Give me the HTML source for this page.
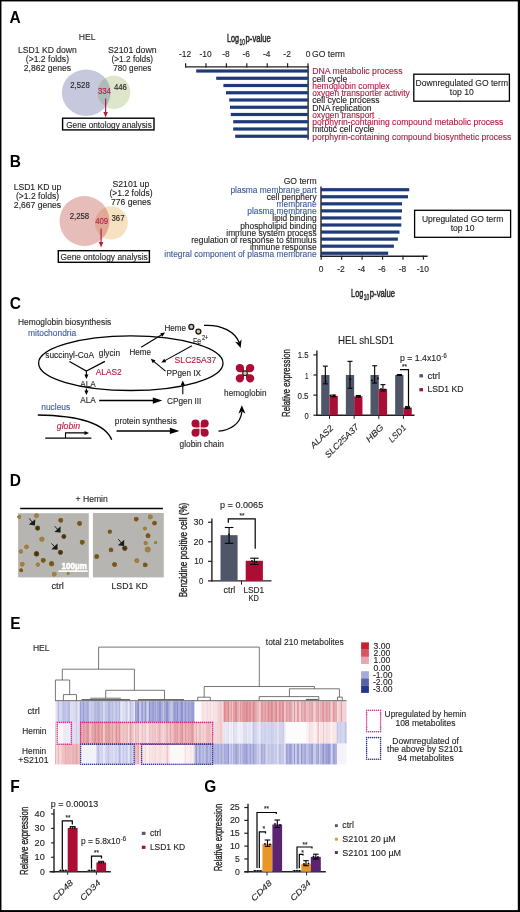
<!DOCTYPE html>
<html><head><meta charset="utf-8"><title>Figure</title>
<style>
html,body{margin:0;padding:0;background:#fff;overflow:hidden;}
svg{display:block;filter:blur(0.3px);}
text{font-family:"Liberation Sans",sans-serif;stroke:#231f20;stroke-width:0.12px;}
</style></head>
<body>
<svg width="520" height="912" viewBox="0 0 520 912" fill="#231f20">
<rect x="0" y="0" width="520" height="912" fill="#000" />
<rect x="1.45" y="1.45" width="516.35" height="908.65" fill="#fff" />
<text x="9.6" y="22.9" font-size="16.6" font-weight="bold" fill="#000" style="stroke:none" textLength="11.2" lengthAdjust="spacingAndGlyphs">A</text>
<text x="9.8" y="167" font-size="16.6" font-weight="bold" fill="#000" style="stroke:none" textLength="11.2" lengthAdjust="spacingAndGlyphs">B</text>
<text x="9.8" y="308.9" font-size="16.6" font-weight="bold" fill="#000" style="stroke:none" textLength="11.2" lengthAdjust="spacingAndGlyphs">C</text>
<text x="9.7" y="486" font-size="16.6" font-weight="bold" fill="#000" style="stroke:none" textLength="11.2" lengthAdjust="spacingAndGlyphs">D</text>
<text x="10.2" y="629.4" font-size="16.6" font-weight="bold" fill="#000" style="stroke:none" textLength="10.3" lengthAdjust="spacingAndGlyphs">E</text>
<text x="10.2" y="791.5" font-size="16.6" font-weight="bold" fill="#000" style="stroke:none" textLength="9.5" lengthAdjust="spacingAndGlyphs">F</text>
<text x="204.2" y="792" font-size="16.6" font-weight="bold" fill="#000" style="stroke:none" textLength="12.05" lengthAdjust="spacingAndGlyphs">G</text>
<text transform="translate(78.8,40.0) scale(1,1.08)" font-size="8.6" textLength="16.8" lengthAdjust="spacingAndGlyphs">HEL</text>
<text transform="translate(47.4,53.1) scale(1,1.08)" font-size="8.6" text-anchor="middle">LSD1 KD down</text>
<text transform="translate(47.4,62.1) scale(1,1.08)" font-size="8.6" text-anchor="middle">(&gt;1.2 folds)</text>
<text transform="translate(47.4,70.8) scale(1,1.08)" font-size="8.6" text-anchor="middle">2,862 genes</text>
<text transform="translate(132.3,52.8) scale(1,1.08)" font-size="8.6" text-anchor="middle" textLength="48.6" lengthAdjust="spacingAndGlyphs">S2101 down</text>
<text transform="translate(132.3,61.6) scale(1,1.08)" font-size="8.6" text-anchor="middle" textLength="41.6" lengthAdjust="spacingAndGlyphs">(&gt;1.2 folds)</text>
<text transform="translate(132.3,70.8) scale(1,1.08)" font-size="8.6" text-anchor="middle" textLength="38.2" lengthAdjust="spacingAndGlyphs">780 genes</text>
<ellipse cx="86.2" cy="92.7" rx="24.4" ry="23.2" fill="#c6c9de"/>
<circle cx="113.8" cy="92.3" r="16.6" fill="#dde6cb"/>
<clipPath id="cA"><ellipse cx="86.2" cy="92.7" rx="24.4" ry="23.2"/></clipPath>
<circle cx="113.8" cy="92.3" r="16.6" fill="#aebbbd" clip-path="url(#cA)"/>
<text transform="translate(80,87.9) scale(1,1.08)" font-size="7.8" text-anchor="middle">2,528</text>
<text transform="translate(104.4,93.9) scale(1,1.08)" font-size="7.8" text-anchor="middle" fill="#b01f45" style="stroke:#b01f45">334</text>
<text transform="translate(120.4,90.0) scale(1,1.08)" font-size="7.8" text-anchor="middle">446</text>
<line x1="105.6" y1="98.5" x2="105.6" y2="113" stroke="#b01f45" stroke-width="1.2" />
<path d="M103.3,112 L105.6,117.5 L107.9,112 Z" fill="#b01f45"/>
<rect x="62.6" y="118.2" width="91.4" height="11.7" fill="#fff" stroke="#000" stroke-width="1.4"/>
<text transform="translate(109.0,127.7) scale(1,1.08)" font-size="8.6" text-anchor="middle" textLength="85.6" lengthAdjust="spacingAndGlyphs">Gene ontology analysis</text>
<text transform="translate(226.9,42.3) scale(1,1.08)" font-size="10.6" textLength="12.1" lengthAdjust="spacingAndGlyphs" style="stroke-width:0.45px">Log</text>
<text transform="translate(239.6,45.0) scale(1,1.08)" font-size="7.6" textLength="5.4" lengthAdjust="spacingAndGlyphs" style="stroke-width:0.35px">10</text>
<text transform="translate(245.6,42.3) scale(1,1.08)" font-size="10.6" textLength="25.2" lengthAdjust="spacingAndGlyphs" style="stroke-width:0.45px">p-value</text>
<line x1="185.6" y1="63.3" x2="185.6" y2="67.4" stroke="#231f20" stroke-width="1.2" />
<text transform="translate(185.1,57.2) scale(1,1.08)" font-size="8.4" text-anchor="middle">-12</text>
<line x1="206.0" y1="63.3" x2="206.0" y2="67.4" stroke="#231f20" stroke-width="1.2" />
<text transform="translate(205.5,57.2) scale(1,1.08)" font-size="8.4" text-anchor="middle">-10</text>
<line x1="226.39999999999998" y1="63.3" x2="226.39999999999998" y2="67.4" stroke="#231f20" stroke-width="1.2" />
<text transform="translate(225.89999999999998,57.2) scale(1,1.08)" font-size="8.4" text-anchor="middle">-8</text>
<line x1="246.79999999999998" y1="63.3" x2="246.79999999999998" y2="67.4" stroke="#231f20" stroke-width="1.2" />
<text transform="translate(246.29999999999998,57.2) scale(1,1.08)" font-size="8.4" text-anchor="middle">-6</text>
<line x1="267.2" y1="63.3" x2="267.2" y2="67.4" stroke="#231f20" stroke-width="1.2" />
<text transform="translate(266.7,57.2) scale(1,1.08)" font-size="8.4" text-anchor="middle">-4</text>
<line x1="287.6" y1="63.3" x2="287.6" y2="67.4" stroke="#231f20" stroke-width="1.2" />
<text transform="translate(287.1,57.2) scale(1,1.08)" font-size="8.4" text-anchor="middle">-2</text>
<line x1="308.0" y1="63.3" x2="308.0" y2="67.4" stroke="#231f20" stroke-width="1.2" />
<text transform="translate(305.7,57.2) scale(1,1.08)" font-size="8.4">0</text>
<line x1="185.1" y1="66.9" x2="308.6" y2="66.9" stroke="#231f20" stroke-width="1.3" />
<line x1="308.1" y1="66.4" x2="308.1" y2="139.8" stroke="#231f20" stroke-width="1.4" />
<text transform="translate(312,57.0) scale(1,1.08)" font-size="8.6">GO term</text>
<rect x="196.2" y="69.4" width="111.69999999999999" height="3.2" fill="#1f3a78" />
<rect x="216.2" y="76.65" width="91.69999999999999" height="3.2" fill="#1f3a78" />
<rect x="223.4" y="83.9" width="84.49999999999997" height="3.2" fill="#1f3a78" />
<rect x="226" y="91.15" width="81.89999999999998" height="3.2" fill="#1f3a78" />
<rect x="229.2" y="98.4" width="78.69999999999999" height="3.2" fill="#1f3a78" />
<rect x="230" y="105.65" width="77.89999999999998" height="3.2" fill="#1f3a78" />
<rect x="230.8" y="112.9" width="77.09999999999997" height="3.2" fill="#1f3a78" />
<rect x="233.2" y="120.15" width="74.69999999999999" height="3.2" fill="#1f3a78" />
<rect x="233.2" y="127.4" width="74.69999999999999" height="3.2" fill="#1f3a78" />
<rect x="235.2" y="134.65" width="72.69999999999999" height="3.2" fill="#1f3a78" />
<text transform="translate(312.2,74.3) scale(1,1.08)" font-size="8.6" fill="#b01f45" style="stroke:#b01f45" textLength="90.3" lengthAdjust="spacingAndGlyphs">DNA metabolic process</text>
<text transform="translate(312.2,81.55) scale(1,1.08)" font-size="8.6" textLength="35.1" lengthAdjust="spacingAndGlyphs">cell cycle</text>
<text transform="translate(312.2,88.8) scale(1,1.08)" font-size="8.6" fill="#b01f45" style="stroke:#b01f45" textLength="77.6" lengthAdjust="spacingAndGlyphs">hemoglobin complex</text>
<text transform="translate(312.2,96.05) scale(1,1.08)" font-size="8.6" fill="#b01f45" style="stroke:#b01f45" textLength="97.5" lengthAdjust="spacingAndGlyphs">oxygen transporter activity</text>
<text transform="translate(312.2,103.3) scale(1,1.08)" font-size="8.6" textLength="67.4" lengthAdjust="spacingAndGlyphs">cell cycle process</text>
<text transform="translate(312.2,110.55) scale(1,1.08)" font-size="8.6" textLength="59.4" lengthAdjust="spacingAndGlyphs">DNA replication</text>
<text transform="translate(312.2,117.8) scale(1,1.08)" font-size="8.6" fill="#b01f45" style="stroke:#b01f45" textLength="62.2" lengthAdjust="spacingAndGlyphs">oxygen transport</text>
<text transform="translate(312.2,125.05) scale(1,1.08)" font-size="8.6" fill="#b01f45" style="stroke:#b01f45" textLength="191.2" lengthAdjust="spacingAndGlyphs">porphyrin-containing compound metabolic process</text>
<text transform="translate(312.2,132.3) scale(1,1.08)" font-size="8.6" textLength="62.2" lengthAdjust="spacingAndGlyphs">mitotic cell cycle</text>
<text transform="translate(312.2,139.55) scale(1,1.08)" font-size="8.6" fill="#b01f45" style="stroke:#b01f45" textLength="199.2" lengthAdjust="spacingAndGlyphs">porphyrin-containing compound biosynthetic process</text>
<rect x="413.8" y="74.2" width="95.6" height="27" fill="#fff" stroke="#000" stroke-width="1.3"/>
<text transform="translate(461.8,85.8) scale(1,1.08)" font-size="8.6" text-anchor="middle" textLength="92.4" lengthAdjust="spacingAndGlyphs">Downregulated GO term</text>
<text transform="translate(461.8,94.6) scale(1,1.08)" font-size="8.6" text-anchor="middle">top 10</text>
<text transform="translate(37.5,190.4) scale(1,1.08)" font-size="8.6" text-anchor="middle">LSD1 KD up</text>
<text transform="translate(37.5,199.2) scale(1,1.08)" font-size="8.6" text-anchor="middle">(&gt;1.2 folds)</text>
<text transform="translate(37.5,207.9) scale(1,1.08)" font-size="8.6" text-anchor="middle">2,667 genes</text>
<text transform="translate(131,187.4) scale(1,1.08)" font-size="8.6" text-anchor="middle">S2101 up</text>
<text transform="translate(131,196.4) scale(1,1.08)" font-size="8.6" text-anchor="middle">(&gt;1.2 folds)</text>
<text transform="translate(131,205.0) scale(1,1.08)" font-size="8.6" text-anchor="middle">776 genes</text>
<circle cx="84.5" cy="221" r="25" fill="#e6bdb9"/>
<circle cx="111.2" cy="222.9" r="16.6" fill="#f6e1c1"/>
<clipPath id="cB"><circle cx="84.5" cy="221" r="25"/></clipPath>
<circle cx="111.2" cy="222.9" r="16.6" fill="#e0a897" clip-path="url(#cB)"/>
<text transform="translate(79.4,219.4) scale(1,1.08)" font-size="7.8" text-anchor="middle">2,258</text>
<text transform="translate(101.7,224.2) scale(1,1.08)" font-size="7.8" text-anchor="middle" fill="#b01f45" style="stroke:#b01f45">409</text>
<text transform="translate(118,220.8) scale(1,1.08)" font-size="7.8" text-anchor="middle">367</text>
<line x1="101.1" y1="228.5" x2="101.1" y2="243" stroke="#b01f45" stroke-width="1.2" />
<path d="M98.8,242 L101.1,247.6 L103.4,242 Z" fill="#b01f45"/>
<rect x="58.3" y="250.7" width="91.1" height="11.6" fill="#fff" stroke="#000" stroke-width="1.4"/>
<text transform="translate(104.1,260.1) scale(1,1.08)" font-size="8.6" text-anchor="middle" textLength="87.2" lengthAdjust="spacingAndGlyphs">Gene ontology analysis</text>
<text transform="translate(316.6,183.8) scale(1,1.08)" font-size="8.6" text-anchor="end">GO term</text>
<rect x="321.2" y="188.1" width="88.0" height="3.2" fill="#1f3a78" />
<text transform="translate(316.6,193.2) scale(1,1.08)" font-size="8.38" text-anchor="end" fill="#3e5c98" style="stroke:#3e5c98">plasma membrane part</text>
<rect x="321.2" y="195.16" width="86.80000000000001" height="3.2" fill="#1f3a78" />
<text transform="translate(316.6,200.26) scale(1,1.08)" font-size="8.38" text-anchor="end">cell periphery</text>
<rect x="321.2" y="202.22" width="80.80000000000001" height="3.2" fill="#1f3a78" />
<text transform="translate(316.6,207.32) scale(1,1.08)" font-size="8.38" text-anchor="end" fill="#3e5c98" style="stroke:#3e5c98">membrane</text>
<rect x="321.2" y="209.28" width="80.80000000000001" height="3.2" fill="#1f3a78" />
<text transform="translate(316.6,214.38) scale(1,1.08)" font-size="8.38" text-anchor="end" fill="#3e5c98" style="stroke:#3e5c98">plasma membrane</text>
<rect x="321.2" y="216.34" width="80.10000000000002" height="3.2" fill="#1f3a78" />
<text transform="translate(316.6,221.44) scale(1,1.08)" font-size="8.38" text-anchor="end">lipid binding</text>
<rect x="321.2" y="223.4" width="80.10000000000002" height="3.2" fill="#1f3a78" />
<text transform="translate(316.6,228.5) scale(1,1.08)" font-size="8.38" text-anchor="end">phospholipid binding</text>
<rect x="321.2" y="230.46" width="78.30000000000001" height="3.2" fill="#1f3a78" />
<text transform="translate(316.6,235.56) scale(1,1.08)" font-size="8.38" text-anchor="end">immune system process</text>
<rect x="321.2" y="237.51999999999998" width="76.69999999999999" height="3.2" fill="#1f3a78" />
<text transform="translate(316.6,242.62) scale(1,1.08)" font-size="8.38" text-anchor="end">regulation of response to stimulus</text>
<rect x="321.2" y="244.57999999999998" width="72.69999999999999" height="3.2" fill="#1f3a78" />
<text transform="translate(316.6,249.68) scale(1,1.08)" font-size="8.38" text-anchor="end">immune response</text>
<rect x="321.2" y="251.64" width="67.0" height="3.2" fill="#1f3a78" />
<text transform="translate(316.6,256.74) scale(1,1.08)" font-size="8.38" text-anchor="end" fill="#3e5c98" style="stroke:#3e5c98">integral component of plasma membrane</text>
<line x1="321.0" y1="186.5" x2="321.0" y2="256.9" stroke="#231f20" stroke-width="1.4" />
<line x1="320.3" y1="256.3" x2="427.6" y2="256.3" stroke="#231f20" stroke-width="1.35" />
<line x1="321.2" y1="255.7" x2="321.2" y2="259.7" stroke="#231f20" stroke-width="1.2" />
<text transform="translate(321.2,272.4) scale(1,1.08)" font-size="8.4" text-anchor="middle">0</text>
<line x1="341.65" y1="255.7" x2="341.65" y2="259.7" stroke="#231f20" stroke-width="1.2" />
<text transform="translate(341.04999999999995,272.4) scale(1,1.08)" font-size="8.4" text-anchor="middle">-2</text>
<line x1="362.09999999999997" y1="255.7" x2="362.09999999999997" y2="259.7" stroke="#231f20" stroke-width="1.2" />
<text transform="translate(361.49999999999994,272.4) scale(1,1.08)" font-size="8.4" text-anchor="middle">-4</text>
<line x1="382.54999999999995" y1="255.7" x2="382.54999999999995" y2="259.7" stroke="#231f20" stroke-width="1.2" />
<text transform="translate(381.94999999999993,272.4) scale(1,1.08)" font-size="8.4" text-anchor="middle">-6</text>
<line x1="403.0" y1="255.7" x2="403.0" y2="259.7" stroke="#231f20" stroke-width="1.2" />
<text transform="translate(402.4,272.4) scale(1,1.08)" font-size="8.4" text-anchor="middle">-8</text>
<line x1="423.45" y1="255.7" x2="423.45" y2="259.7" stroke="#231f20" stroke-width="1.2" />
<text transform="translate(422.84999999999997,272.4) scale(1,1.08)" font-size="8.4" text-anchor="middle">-10</text>
<text transform="translate(351.1,296.9) scale(1,1.08)" font-size="10.6" textLength="12.1" lengthAdjust="spacingAndGlyphs" style="stroke-width:0.45px">Log</text>
<text transform="translate(363.8,299.6) scale(1,1.08)" font-size="7.6" textLength="5.4" lengthAdjust="spacingAndGlyphs" style="stroke-width:0.35px">10</text>
<text transform="translate(369.8,296.9) scale(1,1.08)" font-size="10.6" textLength="25.2" lengthAdjust="spacingAndGlyphs" style="stroke-width:0.45px">p-value</text>
<rect x="414.6" y="210.3" width="96" height="27" fill="#fff" stroke="#000" stroke-width="1.3"/>
<text transform="translate(462.6,221.9) scale(1,1.08)" font-size="8.6" text-anchor="middle" textLength="81.3" lengthAdjust="spacingAndGlyphs">Upregulated GO term</text>
<text transform="translate(462.6,231.2) scale(1,1.08)" font-size="8.6" text-anchor="middle">top 10</text>
<text transform="translate(18,324.7) scale(1,1.08)" font-size="8.6" textLength="93.2" lengthAdjust="spacingAndGlyphs">Hemoglobin biosynthesis</text>
<text transform="translate(28,335.9) scale(1,1.08)" font-size="8.6" fill="#3e5c98" style="stroke:#3e5c98" textLength="48.2" lengthAdjust="spacingAndGlyphs">mitochondria</text>
<ellipse cx="130.8" cy="363.2" rx="92.2" ry="27.3" fill="none" stroke="#000" stroke-width="1.3"/>
<text transform="translate(45.2,357.9) scale(1,1.08)" font-size="8.6" textLength="48.8" lengthAdjust="spacingAndGlyphs">succinyl-CoA</text>
<text transform="translate(98.8,356.1) scale(1,1.08)" font-size="8.6" textLength="21.2" lengthAdjust="spacingAndGlyphs">glycin</text>
<polyline points="69.4,361.4 86.4,371 104.9,361.4" fill="none" stroke="#000" stroke-width="1.2"/>
<line x1="86.4" y1="371" x2="86.4" y2="375.3" stroke="#000" stroke-width="1.1" />
<path d="M86.40,378.90 L84.40,374.40 L88.40,374.40 Z" fill="#000"/>
<text transform="translate(95.7,374.8) scale(1,1.08)" font-size="8.6" fill="#b01f45" style="stroke:#b01f45" textLength="26" lengthAdjust="spacingAndGlyphs">ALAS2</text>
<text transform="translate(80.2,387.0) scale(1,1.08)" font-size="8.6" textLength="15.5" lengthAdjust="spacingAndGlyphs">ALA</text>
<line x1="86.4" y1="388.4" x2="86.4" y2="391.4" stroke="#000" stroke-width="1.1" />
<path d="M86.40,395.00 L84.40,390.50 L88.40,390.50 Z" fill="#000"/>
<text transform="translate(80.2,402.5) scale(1,1.08)" font-size="8.6" textLength="15.5" lengthAdjust="spacingAndGlyphs">ALA</text>
<line x1="99.2" y1="400.6" x2="154.7" y2="400.6" stroke="#000" stroke-width="1.5" />
<path d="M162.30,400.60 L152.80,403.70 L152.80,397.50 Z" fill="#000"/>
<text transform="translate(167,404.3) scale(1,1.08)" font-size="8.6" textLength="34.4" lengthAdjust="spacingAndGlyphs">CPgen III</text>
<line x1="182.8" y1="394.3" x2="182.8" y2="384.0" stroke="#000" stroke-width="1.1" />
<path d="M182.80,380.40 L184.80,384.90 L180.80,384.90 Z" fill="#000"/>
<text transform="translate(166.5,375.7) scale(1,1.08)" font-size="8.6" textLength="34.5" lengthAdjust="spacingAndGlyphs">PPgen IX</text>
<line x1="165.5" y1="371.1" x2="153.47" y2="361.1" stroke="#000" stroke-width="1.1" />
<path d="M150.70,358.80 L155.44,360.14 L152.88,363.21 Z" fill="#000"/>
<text transform="translate(174.6,363.0) scale(1,1.08)" font-size="8.6" fill="#b01f45" style="stroke:#b01f45" textLength="41.7" lengthAdjust="spacingAndGlyphs">SLC25A37</text>
<text transform="translate(129.5,355.2) scale(1,1.08)" font-size="8.6" textLength="21.6" lengthAdjust="spacingAndGlyphs">Heme</text>
<line x1="191.9" y1="345.7" x2="164.45" y2="360.86" stroke="#000" stroke-width="1.1" />
<path d="M161.30,362.60 L164.27,358.67 L166.21,362.18 Z" fill="#000"/>
<line x1="141.2" y1="347.2" x2="162.03" y2="334.48" stroke="#000" stroke-width="1.1" />
<path d="M165.10,332.60 L162.30,336.65 L160.22,333.24 Z" fill="#000"/>
<text transform="translate(164.4,331.3) scale(1,1.08)" font-size="8.6" textLength="21.6" lengthAdjust="spacingAndGlyphs">Heme</text>
<circle cx="191.3" cy="326.9" r="2.45" fill="#d9c6a0" stroke="#1a1a18" stroke-width="1.35"/>
<circle cx="198.4" cy="331.5" r="2.45" fill="#d9c6a0" stroke="#1a1a18" stroke-width="1.35"/>
<text transform="translate(192.9,343.5) scale(1,1.08)" font-size="9" textLength="8.2" lengthAdjust="spacingAndGlyphs">Fe</text>
<text transform="translate(202.0,339.8) scale(1,1.08)" font-size="6.2" textLength="6.4" lengthAdjust="spacingAndGlyphs">2+</text>
<path d="M204,325.4 C222,324.3 235,332 239.2,342.5" fill="none" stroke="#000" stroke-width="1.3"/>
<path d="M240.6,348 L235.2,341.8 L238.8,342.6 L241.6,339.4 Z" fill="#000"/>
<path d="M244.00,372.20 L239.85,372.20 A4.15,4.15 0 0 1 235.70,368.05 A4.15,4.15 0 0 1 239.85,363.90 A4.15,4.15 0 0 1 244.00,368.05 Z" fill="#ac0d35"/>
<path d="M244.00,374.20 L239.85,374.20 A4.15,4.15 0 0 0 235.70,378.35 A4.15,4.15 0 0 0 239.85,382.50 A4.15,4.15 0 0 0 244.00,378.35 Z" fill="#ac0d35"/>
<path d="M246.00,372.20 L250.15,372.20 A4.15,4.15 0 0 0 254.30,368.05 A4.15,4.15 0 0 0 250.15,363.90 A4.15,4.15 0 0 0 246.00,368.05 Z" fill="#ac0d35"/>
<path d="M246.00,374.20 L250.15,374.20 A4.15,4.15 0 0 1 254.30,378.35 A4.15,4.15 0 0 1 250.15,382.50 A4.15,4.15 0 0 1 246.00,378.35 Z" fill="#ac0d35"/>
<circle cx="245.0" cy="373.2" r="2.3" fill="#d8c9a3" stroke="#1c2a22" stroke-width="1.1"/>
<text transform="translate(224.1,395.9) scale(1,1.08)" font-size="8.6" textLength="42.4" lengthAdjust="spacingAndGlyphs">hemoglobin</text>
<text transform="translate(41.2,410.3) scale(1,1.08)" font-size="8.6" fill="#3e5c98" style="stroke:#3e5c98" textLength="29" lengthAdjust="spacingAndGlyphs">nucleus</text>
<path d="M37.8,415 C72,415.5 104,421 111.7,439.8" fill="none" stroke="#000" stroke-width="1.3"/>
<text transform="translate(56.8,429.0) scale(1,1.08)" font-size="8.6" fill="#b01f45" style="stroke:#b01f45" textLength="23.4" lengthAdjust="spacingAndGlyphs" font-style="italic">globin</text>
<line x1="45.2" y1="438.1" x2="91.4" y2="438.1" stroke="#000" stroke-width="1.2" />
<polyline points="65.5,438.1 65.5,432.9 85.5,432.9" fill="none" stroke="#000" stroke-width="1.1"/>
<path d="M89.00,432.90 L84.50,434.90 L84.50,430.90 Z" fill="#000"/>
<text transform="translate(114.8,424.0) scale(1,1.08)" font-size="8.6" textLength="62" lengthAdjust="spacingAndGlyphs">protein synthesis</text>
<line x1="116.5" y1="430.9" x2="171.8" y2="430.9" stroke="#000" stroke-width="1.5" />
<path d="M179.40,430.90 L169.90,434.00 L169.90,427.80 Z" fill="#000"/>
<path d="M199.50,427.60 L195.50,427.60 A4.0,4.0 0 0 1 191.50,423.60 A4.0,4.0 0 0 1 195.50,419.60 A4.0,4.0 0 0 1 199.50,423.60 Z" fill="#ac0d35"/>
<path d="M199.50,428.80 L195.50,428.80 A4.0,4.0 0 0 0 191.50,432.80 A4.0,4.0 0 0 0 195.50,436.80 A4.0,4.0 0 0 0 199.50,432.80 Z" fill="#ac0d35"/>
<path d="M200.70,427.60 L204.70,427.60 A4.0,4.0 0 0 0 208.70,423.60 A4.0,4.0 0 0 0 204.70,419.60 A4.0,4.0 0 0 0 200.70,423.60 Z" fill="#ac0d35"/>
<path d="M200.70,428.80 L204.70,428.80 A4.0,4.0 0 0 1 208.70,432.80 A4.0,4.0 0 0 1 204.70,436.80 A4.0,4.0 0 0 1 200.70,432.80 Z" fill="#ac0d35"/>
<text transform="translate(179.5,446.7) scale(1,1.08)" font-size="8.6" textLength="44.5" lengthAdjust="spacingAndGlyphs">globin chain</text>
<path d="M218.5,431.2 C230,430.5 240.5,424 241.8,412" fill="none" stroke="#000" stroke-width="1.3"/>
<path d="M241.8,405.2 L245.4,413.4 L241.9,411.6 L238.4,413.4 Z" fill="#000"/>
<text transform="translate(337.9,344.2) scale(1,1.08)" font-size="9.8" textLength="56.0" lengthAdjust="spacingAndGlyphs">HEL shLSD1</text>
<text transform="translate(290,416.9) rotate(-90)" font-size="10" textLength="67.7" lengthAdjust="spacingAndGlyphs" style="stroke-width:0.35px">Relative expression</text>
<line x1="316.9" y1="350.6" x2="316.9" y2="415.9" stroke="#231f20" stroke-width="1.4" />
<line x1="316.2" y1="415.3" x2="414.5" y2="415.3" stroke="#231f20" stroke-width="1.4" />
<line x1="313.4" y1="354.9" x2="316.9" y2="354.9" stroke="#231f20" stroke-width="1.2" />
<text transform="translate(308.6,358.4) scale(1,1.08)" font-size="8.4" text-anchor="end" textLength="10.8" lengthAdjust="spacingAndGlyphs">1.5</text>
<line x1="313.4" y1="375.0" x2="316.9" y2="375.0" stroke="#231f20" stroke-width="1.2" />
<text transform="translate(308.6,378.5) scale(1,1.08)" font-size="8.4" text-anchor="end" textLength="3.5" lengthAdjust="spacingAndGlyphs">1</text>
<line x1="313.4" y1="395.09999999999997" x2="316.9" y2="395.09999999999997" stroke="#231f20" stroke-width="1.2" />
<text transform="translate(308.6,398.6) scale(1,1.08)" font-size="8.4" text-anchor="end" textLength="11.2" lengthAdjust="spacingAndGlyphs">0.5</text>
<line x1="313.4" y1="415.2" x2="316.9" y2="415.2" stroke="#231f20" stroke-width="1.2" />
<text transform="translate(308.6,418.7) scale(1,1.08)" font-size="8.4" text-anchor="end" textLength="4.2" lengthAdjust="spacingAndGlyphs">0</text>
<rect x="321.2" y="375.0" width="8.3" height="40.2" fill="#4f5669" />
<rect x="329.5" y="395.904" width="8.3" height="19.296" fill="#ac0d35" />
<line x1="329.5" y1="415.2" x2="329.5" y2="418.9" stroke="#231f20" stroke-width="1" />
<line x1="325.35" y1="366.156" x2="325.35" y2="383.844" stroke="#000" stroke-width="1.1" />
<line x1="322.85" y1="366.156" x2="327.85" y2="366.156" stroke="#000" stroke-width="1.1" />
<line x1="322.85" y1="383.844" x2="327.85" y2="383.844" stroke="#000" stroke-width="1.1" />
<line x1="333.65" y1="395.09999999999997" x2="333.65" y2="396.70799999999997" stroke="#000" stroke-width="1.1" />
<line x1="331.15" y1="395.09999999999997" x2="336.15" y2="395.09999999999997" stroke="#000" stroke-width="1.1" />
<line x1="331.15" y1="396.70799999999997" x2="336.15" y2="396.70799999999997" stroke="#000" stroke-width="1.1" />
<rect x="345.84999999999997" y="375.0" width="8.3" height="40.2" fill="#4f5669" />
<rect x="354.15" y="396.306" width="8.3" height="18.894000000000002" fill="#ac0d35" />
<line x1="354.15" y1="415.2" x2="354.15" y2="418.9" stroke="#231f20" stroke-width="1" />
<line x1="350.0" y1="361.332" x2="350.0" y2="388.26599999999996" stroke="#000" stroke-width="1.1" />
<line x1="347.5" y1="361.332" x2="352.5" y2="361.332" stroke="#000" stroke-width="1.1" />
<line x1="347.5" y1="388.26599999999996" x2="352.5" y2="388.26599999999996" stroke="#000" stroke-width="1.1" />
<line x1="358.29999999999995" y1="395.502" x2="358.29999999999995" y2="397.11" stroke="#000" stroke-width="1.1" />
<line x1="355.79999999999995" y1="395.502" x2="360.79999999999995" y2="395.502" stroke="#000" stroke-width="1.1" />
<line x1="355.79999999999995" y1="397.11" x2="360.79999999999995" y2="397.11" stroke="#000" stroke-width="1.1" />
<rect x="370.5" y="375.0" width="8.3" height="40.2" fill="#4f5669" />
<rect x="378.8" y="389.07" width="8.3" height="26.130000000000003" fill="#ac0d35" />
<line x1="378.8" y1="415.2" x2="378.8" y2="418.9" stroke="#231f20" stroke-width="1" />
<line x1="374.65000000000003" y1="365.75399999999996" x2="374.65000000000003" y2="383.03999999999996" stroke="#000" stroke-width="1.1" />
<line x1="372.15000000000003" y1="365.75399999999996" x2="377.15000000000003" y2="365.75399999999996" stroke="#000" stroke-width="1.1" />
<line x1="372.15000000000003" y1="383.03999999999996" x2="377.15000000000003" y2="383.03999999999996" stroke="#000" stroke-width="1.1" />
<line x1="382.95" y1="384.64799999999997" x2="382.95" y2="391.08" stroke="#000" stroke-width="1.1" />
<line x1="380.45" y1="384.64799999999997" x2="385.45" y2="384.64799999999997" stroke="#000" stroke-width="1.1" />
<line x1="380.45" y1="391.08" x2="385.45" y2="391.08" stroke="#000" stroke-width="1.1" />
<rect x="395.15" y="375.0" width="8.3" height="40.2" fill="#4f5669" />
<rect x="403.45" y="407.562" width="8.3" height="7.638000000000001" fill="#ac0d35" />
<line x1="403.45" y1="415.2" x2="403.45" y2="418.9" stroke="#231f20" stroke-width="1" />
<line x1="399.3" y1="374.59799999999996" x2="399.3" y2="375.402" stroke="#000" stroke-width="1.1" />
<line x1="396.8" y1="374.59799999999996" x2="401.8" y2="374.59799999999996" stroke="#000" stroke-width="1.1" />
<line x1="396.8" y1="375.402" x2="401.8" y2="375.402" stroke="#000" stroke-width="1.1" />
<line x1="407.59999999999997" y1="406.758" x2="407.59999999999997" y2="408.366" stroke="#000" stroke-width="1.1" />
<line x1="405.09999999999997" y1="406.758" x2="410.09999999999997" y2="406.758" stroke="#000" stroke-width="1.1" />
<line x1="405.09999999999997" y1="408.366" x2="410.09999999999997" y2="408.366" stroke="#000" stroke-width="1.1" />
<circle cx="325.6" cy="381.5" r="0.9" fill="#000"/>
<circle cx="350.3" cy="379.2" r="0.9" fill="#000"/>
<circle cx="372" cy="380.5" r="0.9" fill="#000"/>
<circle cx="378" cy="378.5" r="0.9" fill="#000"/>
<circle cx="330.5" cy="395.5" r="0.9" fill="#000"/>
<circle cx="334" cy="395.5" r="0.9" fill="#000"/>
<circle cx="357" cy="396" r="0.9" fill="#000"/>
<circle cx="360" cy="396.5" r="0.9" fill="#000"/>
<circle cx="381" cy="389" r="0.9" fill="#000"/>
<circle cx="385" cy="389.5" r="0.9" fill="#000"/>
<circle cx="406" cy="407" r="0.9" fill="#000"/>
<circle cx="409" cy="407.5" r="0.9" fill="#000"/>
<circle cx="398" cy="375" r="0.9" fill="#000"/>
<circle cx="401" cy="375" r="0.9" fill="#000"/>
<polyline points="400,369.6 408.5,369.6 408.5,406.2" fill="none" stroke="#000" stroke-width="1.2"/>
<text transform="translate(404.6,368.9) scale(1,1.08)" font-size="7" text-anchor="middle" textLength="5" lengthAdjust="spacingAndGlyphs">**</text>
<text transform="translate(400,360.6) scale(1,1.08)" font-size="8.6" textLength="41" lengthAdjust="spacingAndGlyphs">p = 1.4x10</text>
<text transform="translate(441.5,357.7) scale(1,1.08)" font-size="6" textLength="5.2" lengthAdjust="spacingAndGlyphs">-6</text>
<rect x="419.4" y="374.2" width="3.6" height="3.2" fill="#4f5669" />
<text transform="translate(427.5,378.9) scale(1,1.08)" font-size="8.6" textLength="12.6" lengthAdjust="spacingAndGlyphs">ctrl</text>
<rect x="419.4" y="388.1" width="3.6" height="3.2" fill="#ac0d35" />
<text transform="translate(427.5,392.4) scale(1,1.08)" font-size="8.6" textLength="36" lengthAdjust="spacingAndGlyphs">LSD1 KD</text>
<text transform="translate(333.8,428.8) rotate(-45)" font-size="8.6" font-style="italic" text-anchor="end" textLength="28.2" lengthAdjust="spacingAndGlyphs">ALAS2</text>
<text transform="translate(359.3,427.5) rotate(-45)" font-size="8.6" font-style="italic" text-anchor="end" textLength="44" lengthAdjust="spacingAndGlyphs">SLC25A37</text>
<text transform="translate(384.2,427.8) rotate(-45)" font-size="8.6" font-style="italic" text-anchor="end" textLength="21.2" lengthAdjust="spacingAndGlyphs">HBG</text>
<text transform="translate(406.9,428.2) rotate(-45)" font-size="8.6" font-style="italic" text-anchor="end" textLength="21" lengthAdjust="spacingAndGlyphs">LSD1</text>
<text transform="translate(75.5,502.1) scale(1,1.08)" font-size="8.6" textLength="32.3" lengthAdjust="spacingAndGlyphs">+ Hemin</text>
<line x1="20.2" y1="508.4" x2="162.9" y2="508.4" stroke="#000" stroke-width="1.5" />
<defs><radialGradient id="cellD" cx="0.5" cy="0.5" r="0.5"><stop offset="0" stop-color="#342c16"/><stop offset="0.5" stop-color="#473a18"/><stop offset="0.78" stop-color="#7c6228"/><stop offset="1" stop-color="#b6b5b1" stop-opacity="0"/></radialGradient><radialGradient id="cellL" cx="0.5" cy="0.5" r="0.5"><stop offset="0" stop-color="#a08850"/><stop offset="0.55" stop-color="#9a7c3c"/><stop offset="0.8" stop-color="#a48a50"/><stop offset="1" stop-color="#b6b5b1" stop-opacity="0"/></radialGradient><radialGradient id="cellM" cx="0.5" cy="0.5" r="0.5"><stop offset="0" stop-color="#6a5220"/><stop offset="0.55" stop-color="#765a22"/><stop offset="0.8" stop-color="#8e7032"/><stop offset="1" stop-color="#b6b5b1" stop-opacity="0"/></radialGradient></defs>
<rect x="18.1" y="513.2" width="70.7" height="64.2" fill="#b6b5b1" />
<rect x="92.9" y="513.0" width="70.9" height="64.4" fill="#b6b5b1" />
<circle cx="36.5" cy="515.7" r="2.88" fill="url(#cellL)"/>
<circle cx="19.3" cy="516.9" r="2.40" fill="url(#cellL)"/>
<circle cx="60.8" cy="520.3" r="3.00" fill="url(#cellM)"/>
<circle cx="79.6" cy="523.4" r="3.00" fill="url(#cellM)"/>
<circle cx="37.6" cy="528.1" r="3.12" fill="url(#cellD)"/>
<circle cx="63.9" cy="536.5" r="3.00" fill="url(#cellD)"/>
<circle cx="41.9" cy="539.2" r="3.12" fill="url(#cellL)"/>
<circle cx="82.2" cy="542.2" r="3.00" fill="url(#cellM)"/>
<circle cx="26.5" cy="546.9" r="2.88" fill="url(#cellL)"/>
<circle cx="20.8" cy="551.5" r="2.64" fill="url(#cellL)"/>
<circle cx="60.4" cy="552.3" r="3.12" fill="url(#cellD)"/>
<circle cx="36.5" cy="553.8" r="3.36" fill="url(#cellD)"/>
<circle cx="43.2" cy="560.3" r="3.00" fill="url(#cellM)"/>
<circle cx="51.6" cy="563.7" r="3.24" fill="url(#cellM)"/>
<circle cx="22.2" cy="564.2" r="2.88" fill="url(#cellL)"/>
<circle cx="37.8" cy="564.6" r="2.64" fill="url(#cellL)"/>
<circle cx="21.2" cy="570.3" r="2.40" fill="url(#cellM)"/>
<circle cx="54.2" cy="574.2" r="2.88" fill="url(#cellL)"/>
<circle cx="68.1" cy="573.4" r="1.92" fill="url(#cellL)"/>
<circle cx="136.2" cy="519.1" r="2.88" fill="url(#cellM)"/>
<circle cx="150.3" cy="516.9" r="3.00" fill="url(#cellL)"/>
<circle cx="154.5" cy="523.1" r="2.88" fill="url(#cellM)"/>
<circle cx="109.8" cy="531.7" r="2.64" fill="url(#cellM)"/>
<circle cx="144.9" cy="528.5" r="2.40" fill="url(#cellL)"/>
<circle cx="148" cy="535.7" r="3.00" fill="url(#cellM)"/>
<circle cx="145.7" cy="543.1" r="2.64" fill="url(#cellL)"/>
<circle cx="155.7" cy="542.6" r="2.04" fill="url(#cellL)"/>
<circle cx="124.8" cy="548.2" r="3.24" fill="url(#cellD)"/>
<circle cx="111" cy="549.9" r="2.88" fill="url(#cellM)"/>
<circle cx="147.7" cy="549.5" r="3.60" fill="url(#cellL)"/>
<circle cx="96.8" cy="556.5" r="3.00" fill="url(#cellM)"/>
<circle cx="136.9" cy="560.6" r="3.00" fill="url(#cellL)"/>
<circle cx="114.6" cy="564.5" r="3.00" fill="url(#cellM)"/>
<circle cx="145.2" cy="564.9" r="2.88" fill="url(#cellM)"/>
<line x1="29.3" y1="518.5" x2="33.01" y2="523.07" stroke="#1a1a1a" stroke-width="1.0" />
<path d="M34.90,525.40 L28.74,524.48 L35.26,519.18 Z" fill="#1a1a1a"/>
<line x1="54.7" y1="526.2" x2="58.57" y2="530.39" stroke="#1a1a1a" stroke-width="1.0" />
<path d="M60.60,532.60 L54.39,532.06 L60.57,526.37 Z" fill="#1a1a1a"/>
<line x1="51.5" y1="543.4" x2="55.53" y2="547.63" stroke="#1a1a1a" stroke-width="1.0" />
<path d="M57.60,549.80 L51.39,549.37 L57.47,543.57 Z" fill="#1a1a1a"/>
<line x1="118.3" y1="539.2" x2="122.07" y2="543.7" stroke="#1a1a1a" stroke-width="1.0" />
<path d="M124.00,546.00 L117.83,545.17 L124.26,539.78 Z" fill="#1a1a1a"/>
<text x="61.4" y="568.9" font-size="9.2" font-weight="bold" fill="#fff" style="stroke:#fff;stroke-width:0.55px" textLength="25.6" lengthAdjust="spacingAndGlyphs">100µm</text>
<rect x="58.4" y="570.3" width="29.4" height="1.6" fill="#fff" />
<text transform="translate(51.5,589.4) scale(1,1.08)" font-size="8.6" textLength="12.3" lengthAdjust="spacingAndGlyphs">ctrl</text>
<text transform="translate(111.5,589.4) scale(1,1.08)" font-size="8.6" textLength="36.3" lengthAdjust="spacingAndGlyphs">LSD1 KD</text>
<text transform="translate(220,508.4) scale(1,1.08)" font-size="8.6" textLength="43.2" lengthAdjust="spacingAndGlyphs">p = 0.0065</text>
<text transform="translate(242,518.4) scale(1,1.08)" font-size="7" text-anchor="middle" textLength="5" lengthAdjust="spacingAndGlyphs">**</text>
<text transform="translate(186.6,597.3) rotate(-90)" font-size="10" textLength="94.6" lengthAdjust="spacingAndGlyphs" style="stroke-width:0.35px">Benzidine positive cell (%)</text>
<line x1="211.9" y1="518.5" x2="211.9" y2="581.6" stroke="#231f20" stroke-width="1.4" />
<line x1="211.2" y1="580.9" x2="271.5" y2="580.9" stroke="#231f20" stroke-width="1.4" />
<line x1="241.5" y1="580.9" x2="241.5" y2="584.6" stroke="#231f20" stroke-width="1" />
<line x1="208" y1="580.9" x2="211.9" y2="580.9" stroke="#231f20" stroke-width="1.2" />
<text transform="translate(203.4,583.9) scale(1,1.08)" font-size="8.6" text-anchor="end" textLength="4.3" lengthAdjust="spacingAndGlyphs">0</text>
<line x1="208" y1="561.35" x2="211.9" y2="561.35" stroke="#231f20" stroke-width="1.2" />
<text transform="translate(203.4,564.35) scale(1,1.08)" font-size="8.6" text-anchor="end" textLength="9.1" lengthAdjust="spacingAndGlyphs">10</text>
<line x1="208" y1="541.8" x2="211.9" y2="541.8" stroke="#231f20" stroke-width="1.2" />
<text transform="translate(203.4,544.8) scale(1,1.08)" font-size="8.6" text-anchor="end" textLength="9.9" lengthAdjust="spacingAndGlyphs">20</text>
<line x1="208" y1="522.25" x2="211.9" y2="522.25" stroke="#231f20" stroke-width="1.2" />
<text transform="translate(203.4,525.25) scale(1,1.08)" font-size="8.6" text-anchor="end" textLength="9.9" lengthAdjust="spacingAndGlyphs">30</text>
<rect x="220.5" y="535.153" width="17.1" height="45.747" fill="#4f5669" />
<rect x="245.7" y="560.7635" width="17.2" height="20.1365" fill="#ac0d35" />
<line x1="229.1" y1="527.5" x2="229.1" y2="543.3" stroke="#000" stroke-width="1.1" />
<line x1="224.79999999999998" y1="527.5" x2="233.4" y2="527.5" stroke="#000" stroke-width="1.1" />
<line x1="224.79999999999998" y1="543.3" x2="233.4" y2="543.3" stroke="#000" stroke-width="1.1" />
<line x1="254.4" y1="558.2" x2="254.4" y2="564.4" stroke="#000" stroke-width="1.1" />
<line x1="250.1" y1="558.2" x2="258.7" y2="558.2" stroke="#000" stroke-width="1.1" />
<line x1="250.1" y1="564.4" x2="258.7" y2="564.4" stroke="#000" stroke-width="1.1" />
<circle cx="229" cy="534.5" r="0.9" fill="#000"/>
<circle cx="252" cy="561" r="0.9" fill="#000"/>
<circle cx="256.5" cy="562" r="0.9" fill="#000"/>
<polyline points="228.3,522.8 228.3,518.8 255.2,518.8 255.2,548.8" fill="none" stroke="#000" stroke-width="1.2"/>
<text transform="translate(223.5,593.1) scale(1,1.08)" font-size="8.6" textLength="11.8" lengthAdjust="spacingAndGlyphs">ctrl</text>
<text transform="translate(243.4,593.1) scale(1,1.08)" font-size="8.6" textLength="20.8" lengthAdjust="spacingAndGlyphs">LSD1</text>
<text transform="translate(248.5,601.2) scale(1,1.08)" font-size="8.6" textLength="10.3" lengthAdjust="spacingAndGlyphs">KD</text>
<text transform="translate(32.9,650.6) scale(1,1.08)" font-size="8.6" textLength="16.6" lengthAdjust="spacingAndGlyphs">HEL</text>
<text transform="translate(265.8,645.1) scale(1,1.08)" font-size="8.6" textLength="77.8" lengthAdjust="spacingAndGlyphs">total 210 metabolites</text>
<rect x="55.0" y="701.3" width="1.43" height="20.7" fill="#fbeeee" />
<rect x="56.38" y="701.3" width="1.43" height="20.7" fill="#d3d5ec" />
<rect x="57.76" y="701.3" width="1.43" height="20.7" fill="#b6bae0" />
<rect x="59.14" y="701.3" width="1.43" height="20.7" fill="#cccee9" />
<rect x="60.53" y="701.3" width="1.43" height="20.7" fill="#ced1ea" />
<rect x="61.91" y="701.3" width="1.43" height="20.7" fill="#c7c9e7" />
<rect x="63.29" y="701.3" width="1.43" height="20.7" fill="#a4a9da" />
<rect x="64.67" y="701.3" width="1.43" height="20.7" fill="#bfc3e5" />
<rect x="66.05" y="701.3" width="1.43" height="20.7" fill="#c5c9e8" />
<rect x="67.43" y="701.3" width="1.43" height="20.7" fill="#a8acdc" />
<rect x="68.82" y="701.3" width="1.43" height="20.7" fill="#b5b8e1" />
<rect x="70.2" y="701.3" width="4.19" height="20.7" fill="#ddddf0" />
<rect x="74.34" y="701.3" width="1.43" height="20.7" fill="#cfcfea" />
<rect x="75.72" y="701.3" width="1.43" height="20.7" fill="#c8c9e7" />
<rect x="77.1" y="701.3" width="1.43" height="20.7" fill="#dbdbef" />
<rect x="78.49" y="701.3" width="1.43" height="20.7" fill="#dcdcf0" />
<rect x="79.87" y="701.3" width="1.43" height="20.7" fill="#999dd5" />
<rect x="81.25" y="701.3" width="1.43" height="20.7" fill="#a8acdc" />
<rect x="82.63" y="701.3" width="1.43" height="20.7" fill="#989dd4" />
<rect x="84.01" y="701.3" width="1.43" height="20.7" fill="#afb3df" />
<rect x="85.39" y="701.3" width="1.43" height="20.7" fill="#a1a5d8" />
<rect x="86.77" y="701.3" width="1.43" height="20.7" fill="#a5aadb" />
<rect x="88.16" y="701.3" width="1.43" height="20.7" fill="#a1a5d9" />
<rect x="89.54" y="701.3" width="1.43" height="20.7" fill="#d1d4ec" />
<rect x="90.92" y="701.3" width="1.43" height="20.7" fill="#c1c4e5" />
<rect x="92.3" y="701.3" width="1.43" height="20.7" fill="#bbbfe3" />
<rect x="93.68" y="701.3" width="1.43" height="20.7" fill="#b9bde2" />
<rect x="95.06" y="701.3" width="1.43" height="20.7" fill="#abafdc" />
<rect x="96.45" y="701.3" width="1.43" height="20.7" fill="#a8addb" />
<rect x="97.83" y="701.3" width="1.43" height="20.7" fill="#abafdc" />
<rect x="99.21" y="701.3" width="1.43" height="20.7" fill="#a4a9d9" />
<rect x="100.59" y="701.3" width="1.43" height="20.7" fill="#bfc3e5" />
<rect x="101.97" y="701.3" width="1.43" height="20.7" fill="#b8bce2" />
<rect x="103.35" y="701.3" width="1.43" height="20.7" fill="#d3d5ed" />
<rect x="104.73" y="701.3" width="1.43" height="20.7" fill="#c1c4e5" />
<rect x="106.12" y="701.3" width="1.43" height="20.7" fill="#b9bde2" />
<rect x="107.5" y="701.3" width="1.43" height="20.7" fill="#acb0dc" />
<rect x="108.88" y="701.3" width="1.43" height="20.7" fill="#aaafdb" />
<rect x="110.26" y="701.3" width="1.43" height="20.7" fill="#b4b8e0" />
<rect x="111.64" y="701.3" width="1.43" height="20.7" fill="#b6bae1" />
<rect x="113.02" y="701.3" width="1.43" height="20.7" fill="#cbcde9" />
<rect x="114.41" y="701.3" width="1.43" height="20.7" fill="#b9bde2" />
<rect x="115.79" y="701.3" width="1.43" height="20.7" fill="#b6bae1" />
<rect x="117.17" y="701.3" width="1.43" height="20.7" fill="#c0c4e5" />
<rect x="118.55" y="701.3" width="1.43" height="20.7" fill="#afb3dd" />
<rect x="119.93" y="701.3" width="1.43" height="20.7" fill="#dcdef2" />
<rect x="121.31" y="701.3" width="1.43" height="20.7" fill="#dee0f3" />
<rect x="122.69" y="701.3" width="1.43" height="20.7" fill="#d6d8ef" />
<rect x="124.08" y="701.3" width="1.43" height="20.7" fill="#dcdef2" />
<rect x="125.46" y="701.3" width="1.43" height="20.7" fill="#bfc2e5" />
<rect x="126.84" y="701.3" width="1.43" height="20.7" fill="#d4d6ee" />
<rect x="128.22" y="701.3" width="1.43" height="20.7" fill="#e9eaf6" />
<rect x="129.6" y="701.3" width="1.43" height="20.7" fill="#babde2" />
<rect x="130.98" y="701.3" width="1.43" height="20.7" fill="#d1d3ed" />
<rect x="132.36" y="701.3" width="1.43" height="20.7" fill="#bec1e4" />
<rect x="133.75" y="701.3" width="1.43" height="20.7" fill="#ecedf8" />
<rect x="135.13" y="701.3" width="1.43" height="20.7" fill="#898dcd" />
<rect x="136.51" y="701.3" width="1.43" height="20.7" fill="#9195d0" />
<rect x="137.89" y="701.3" width="1.43" height="20.7" fill="#888dcc" />
<rect x="139.27" y="701.3" width="1.43" height="20.7" fill="#c0c2e4" />
<rect x="140.65" y="701.3" width="1.43" height="20.7" fill="#aaaddb" />
<rect x="142.04" y="701.3" width="1.43" height="20.7" fill="#969ad2" />
<rect x="143.42" y="701.3" width="1.43" height="20.7" fill="#adb0dc" />
<rect x="144.8" y="701.3" width="1.43" height="20.7" fill="#9599d2" />
<rect x="146.18" y="701.3" width="1.43" height="20.7" fill="#b4b7df" />
<rect x="147.56" y="701.3" width="1.43" height="20.7" fill="#c8cae7" />
<rect x="148.94" y="701.3" width="1.43" height="20.7" fill="#898dcc" />
<rect x="150.32" y="701.3" width="1.43" height="20.7" fill="#9094d0" />
<rect x="151.71" y="701.3" width="1.43" height="20.7" fill="#9a9ed4" />
<rect x="153.09" y="701.3" width="1.43" height="20.7" fill="#9397d1" />
<rect x="154.47" y="701.3" width="1.43" height="20.7" fill="#8e92cf" />
<rect x="155.85" y="701.3" width="1.43" height="20.7" fill="#b7bae0" />
<rect x="157.23" y="701.3" width="1.43" height="20.7" fill="#8b8fcd" />
<rect x="158.61" y="701.3" width="1.43" height="20.7" fill="#8f93cf" />
<rect x="160.0" y="701.3" width="1.43" height="20.7" fill="#9094d0" />
<rect x="161.38" y="701.3" width="1.43" height="20.7" fill="#979bd3" />
<rect x="162.76" y="701.3" width="1.43" height="20.7" fill="#c0c2e4" />
<rect x="164.14" y="701.3" width="1.43" height="20.7" fill="#979bd3" />
<rect x="165.52" y="701.3" width="1.43" height="20.7" fill="#8b8fcd" />
<rect x="166.9" y="701.3" width="1.43" height="20.7" fill="#8a8fcd" />
<rect x="168.28" y="701.3" width="1.43" height="20.7" fill="#9194d0" />
<rect x="169.67" y="701.3" width="1.43" height="20.7" fill="#babce3" />
<rect x="171.05" y="701.3" width="1.43" height="20.7" fill="#c5c7e8" />
<rect x="172.43" y="701.3" width="1.43" height="20.7" fill="#9da1d6" />
<rect x="173.81" y="701.3" width="1.43" height="20.7" fill="#9296d1" />
<rect x="175.19" y="701.3" width="1.43" height="20.7" fill="#868acb" />
<rect x="176.57" y="701.3" width="1.43" height="20.7" fill="#8a8ecd" />
<rect x="177.95" y="701.3" width="1.43" height="20.7" fill="#aaaddb" />
<rect x="179.34" y="701.3" width="1.43" height="20.7" fill="#9195d1" />
<rect x="180.72" y="701.3" width="1.43" height="20.7" fill="#8b8fce" />
<rect x="182.1" y="701.3" width="1.43" height="20.7" fill="#8388ca" />
<rect x="183.48" y="701.3" width="1.43" height="20.7" fill="#a8abda" />
<rect x="184.86" y="701.3" width="1.43" height="20.7" fill="#9094d0" />
<rect x="186.24" y="701.3" width="1.43" height="20.7" fill="#9da1d6" />
<rect x="187.63" y="701.3" width="1.43" height="20.7" fill="#969ad3" />
<rect x="189.01" y="701.3" width="1.43" height="20.7" fill="#a3a6d8" />
<rect x="190.39" y="701.3" width="1.43" height="20.7" fill="#8c90ce" />
<rect x="191.77" y="701.3" width="1.43" height="20.7" fill="#989cd4" />
<rect x="193.15" y="701.3" width="1.43" height="20.7" fill="#878bcc" />
<rect x="194.53" y="701.3" width="6.96" height="20.7" fill="#fdfafa" />
<rect x="201.44" y="701.3" width="2.81" height="20.7" fill="#f6e0e2" />
<rect x="204.2" y="701.3" width="1.43" height="20.7" fill="#f6e1e3" />
<rect x="205.59" y="701.3" width="1.43" height="20.7" fill="#f6e3e5" />
<rect x="206.97" y="701.3" width="1.43" height="20.7" fill="#f4dadc" />
<rect x="208.35" y="701.3" width="1.43" height="20.7" fill="#f6e0e2" />
<rect x="209.73" y="701.3" width="1.43" height="20.7" fill="#f4dadc" />
<rect x="211.11" y="701.3" width="1.43" height="20.7" fill="#f8e6e8" />
<rect x="212.49" y="701.3" width="2.81" height="20.7" fill="#f6e1e3" />
<rect x="215.26" y="701.3" width="1.43" height="20.7" fill="#f5dddf" />
<rect x="216.64" y="701.3" width="1.43" height="20.7" fill="#f4d8db" />
<rect x="218.02" y="701.3" width="1.43" height="20.7" fill="#f1d4d6" />
<rect x="219.4" y="701.3" width="1.43" height="20.7" fill="#ebbcc0" />
<rect x="220.78" y="701.3" width="1.43" height="20.7" fill="#eeccce" />
<rect x="222.16" y="701.3" width="1.43" height="20.7" fill="#f2d6d8" />
<rect x="223.55" y="701.3" width="1.43" height="20.7" fill="#dc888f" />
<rect x="224.93" y="701.3" width="1.43" height="20.7" fill="#e0949a" />
<rect x="226.31" y="701.3" width="1.43" height="20.7" fill="#de8e94" />
<rect x="227.69" y="701.3" width="1.43" height="20.7" fill="#db848b" />
<rect x="229.07" y="701.3" width="1.43" height="20.7" fill="#e9b5b9" />
<rect x="230.45" y="701.3" width="1.43" height="20.7" fill="#dd8d93" />
<rect x="231.83" y="701.3" width="1.43" height="20.7" fill="#eec7ca" />
<rect x="233.22" y="701.3" width="1.43" height="20.7" fill="#db848b" />
<rect x="234.6" y="701.3" width="1.43" height="20.7" fill="#dd8c92" />
<rect x="235.98" y="701.3" width="1.43" height="20.7" fill="#dd8b92" />
<rect x="237.36" y="701.3" width="1.43" height="20.7" fill="#df949a" />
<rect x="238.74" y="701.3" width="1.43" height="20.7" fill="#ebbdc0" />
<rect x="240.12" y="701.3" width="1.43" height="20.7" fill="#dd8c92" />
<rect x="241.5" y="701.3" width="1.43" height="20.7" fill="#e1999e" />
<rect x="242.89" y="701.3" width="1.43" height="20.7" fill="#e0959b" />
<rect x="244.27" y="701.3" width="1.43" height="20.7" fill="#d97880" />
<rect x="245.65" y="701.3" width="1.43" height="20.7" fill="#dc878d" />
<rect x="247.03" y="701.3" width="1.43" height="20.7" fill="#dd8b91" />
<rect x="248.41" y="701.3" width="1.43" height="20.7" fill="#db8188" />
<rect x="249.79" y="701.3" width="1.43" height="20.7" fill="#de8f95" />
<rect x="251.18" y="701.3" width="1.43" height="20.7" fill="#e3a1a6" />
<rect x="252.56" y="701.3" width="1.43" height="20.7" fill="#da8087" />
<rect x="253.94" y="701.3" width="1.43" height="20.7" fill="#e1999e" />
<rect x="255.32" y="701.3" width="1.43" height="20.7" fill="#dd8c92" />
<rect x="256.7" y="701.3" width="1.43" height="20.7" fill="#eab9bc" />
<rect x="258.08" y="701.3" width="1.43" height="20.7" fill="#e9b3b7" />
<rect x="259.46" y="701.3" width="1.43" height="20.7" fill="#eec7ca" />
<rect x="260.85" y="701.3" width="1.43" height="20.7" fill="#e0969c" />
<rect x="262.23" y="701.3" width="1.43" height="20.7" fill="#dc888f" />
<rect x="263.61" y="701.3" width="1.43" height="20.7" fill="#e3a2a7" />
<rect x="264.99" y="701.3" width="1.43" height="20.7" fill="#e19aa0" />
<rect x="266.37" y="701.3" width="1.43" height="20.7" fill="#e1999e" />
<rect x="267.75" y="701.3" width="1.43" height="20.7" fill="#dc888f" />
<rect x="269.14" y="701.3" width="1.43" height="20.7" fill="#de9096" />
<rect x="270.52" y="701.3" width="1.43" height="20.7" fill="#db8188" />
<rect x="271.9" y="701.3" width="1.43" height="20.7" fill="#df9399" />
<rect x="273.28" y="701.3" width="1.43" height="20.7" fill="#e1989e" />
<rect x="274.66" y="701.3" width="1.43" height="20.7" fill="#df9298" />
<rect x="276.04" y="701.3" width="1.43" height="20.7" fill="#dc888e" />
<rect x="277.42" y="701.3" width="1.43" height="20.7" fill="#e7aeb2" />
<rect x="278.81" y="701.3" width="1.43" height="20.7" fill="#de9096" />
<rect x="280.19" y="701.3" width="1.43" height="20.7" fill="#dd8b91" />
<rect x="281.57" y="701.3" width="1.43" height="20.7" fill="#de9197" />
<rect x="282.95" y="701.3" width="1.43" height="20.7" fill="#dd8b92" />
<rect x="284.33" y="701.3" width="1.43" height="20.7" fill="#edc4c7" />
<rect x="285.71" y="701.3" width="1.43" height="20.7" fill="#e09ca2" />
<rect x="287.09" y="701.3" width="1.43" height="20.7" fill="#e1a1a7" />
<rect x="288.48" y="701.3" width="1.43" height="20.7" fill="#de939a" />
<rect x="289.86" y="701.3" width="1.43" height="20.7" fill="#e19fa5" />
<rect x="291.24" y="701.3" width="1.43" height="20.7" fill="#e09ca2" />
<rect x="292.62" y="701.3" width="1.43" height="20.7" fill="#eecbce" />
<rect x="294.0" y="701.3" width="1.43" height="20.7" fill="#de969d" />
<rect x="295.38" y="701.3" width="1.43" height="20.7" fill="#efcdd0" />
<rect x="296.77" y="701.3" width="1.43" height="20.7" fill="#e09da3" />
<rect x="298.15" y="701.3" width="1.43" height="20.7" fill="#de959b" />
<rect x="299.53" y="701.3" width="1.43" height="20.7" fill="#f1d4d7" />
<rect x="300.91" y="701.3" width="1.43" height="20.7" fill="#df999f" />
<rect x="302.29" y="701.3" width="1.43" height="20.7" fill="#e2a2a8" />
<rect x="303.67" y="701.3" width="2.81" height="20.7" fill="#e19fa5" />
<rect x="306.44" y="701.3" width="1.43" height="20.7" fill="#e8b5ba" />
<rect x="307.82" y="701.3" width="1.43" height="20.7" fill="#e9b9bd" />
<rect x="309.2" y="701.3" width="1.43" height="20.7" fill="#df989e" />
<rect x="310.58" y="701.3" width="1.43" height="20.7" fill="#e4a9ae" />
<rect x="311.96" y="701.3" width="1.43" height="20.7" fill="#e1a1a6" />
<rect x="313.34" y="701.3" width="1.43" height="20.7" fill="#ecc4c8" />
<rect x="314.73" y="701.3" width="1.43" height="20.7" fill="#edc7cb" />
<rect x="316.11" y="701.3" width="1.43" height="20.7" fill="#e1a1a7" />
<rect x="317.49" y="701.3" width="1.43" height="20.7" fill="#de959b" />
<rect x="318.87" y="701.3" width="1.43" height="20.7" fill="#edc5c9" />
<rect x="320.25" y="701.3" width="1.43" height="20.7" fill="#e09ca2" />
<rect x="321.63" y="701.3" width="1.43" height="20.7" fill="#e1a0a5" />
<rect x="323.01" y="701.3" width="1.43" height="20.7" fill="#de949b" />
<rect x="324.4" y="701.3" width="1.43" height="20.7" fill="#e2a3a9" />
<rect x="325.78" y="701.3" width="1.43" height="20.7" fill="#df999f" />
<rect x="327.16" y="701.3" width="1.43" height="20.7" fill="#df979d" />
<rect x="328.54" y="701.3" width="1.43" height="20.7" fill="#de949b" />
<rect x="329.92" y="701.3" width="1.43" height="20.7" fill="#e9bbbf" />
<rect x="331.3" y="701.3" width="1.43" height="20.7" fill="#ecc3c6" />
<rect x="332.68" y="701.3" width="1.43" height="20.7" fill="#df999f" />
<rect x="334.07" y="701.3" width="1.43" height="20.7" fill="#e09ea4" />
<rect x="335.45" y="701.3" width="1.43" height="20.7" fill="#dd9299" />
<rect x="336.83" y="701.3" width="1.43" height="20.7" fill="#f5dadc" />
<rect x="338.21" y="701.3" width="2.81" height="20.7" fill="#efccd0" />
<rect x="340.97" y="701.3" width="1.43" height="20.7" fill="#e3a0a7" />
<rect x="342.36" y="701.3" width="1.43" height="20.7" fill="#efccd0" />
<rect x="343.74" y="701.3" width="1.43" height="20.7" fill="#f1d3d7" />
<rect x="345.12" y="701.3" width="1.43" height="20.7" fill="#f0d0d4" />
<rect x="55.0" y="722" width="1.43" height="21.6" fill="#c7d2eb" />
<rect x="56.38" y="722" width="6.96" height="21.6" fill="#fdf5f5" />
<rect x="63.29" y="722" width="1.43" height="21.6" fill="#e4e6f5" />
<rect x="64.67" y="722" width="1.43" height="21.6" fill="#e6e8f6" />
<rect x="66.05" y="722" width="1.43" height="21.6" fill="#eff1fa" />
<rect x="67.43" y="722" width="1.43" height="21.6" fill="#e1e4f4" />
<rect x="68.82" y="722" width="1.43" height="21.6" fill="#f0f1fa" />
<rect x="70.2" y="722" width="1.43" height="21.6" fill="#dedef1" />
<rect x="71.58" y="722" width="1.43" height="21.6" fill="#dcdcf0" />
<rect x="72.96" y="722" width="1.43" height="21.6" fill="#dedef0" />
<rect x="74.34" y="722" width="1.43" height="21.6" fill="#d9d9ee" />
<rect x="75.72" y="722" width="1.43" height="21.6" fill="#cccde9" />
<rect x="77.1" y="722" width="2.81" height="21.6" fill="#dcdcf0" />
<rect x="79.87" y="722" width="1.43" height="21.6" fill="#e0989c" />
<rect x="81.25" y="722" width="1.43" height="21.6" fill="#e19c9f" />
<rect x="82.63" y="722" width="1.43" height="21.6" fill="#df979b" />
<rect x="84.01" y="722" width="1.43" height="21.6" fill="#e2a1a4" />
<rect x="85.39" y="722" width="1.43" height="21.6" fill="#dd8d92" />
<rect x="86.77" y="722" width="1.43" height="21.6" fill="#de9297" />
<rect x="88.16" y="722" width="1.43" height="21.6" fill="#dc888e" />
<rect x="89.54" y="722" width="1.43" height="21.6" fill="#edc4c6" />
<rect x="90.92" y="722" width="1.43" height="21.6" fill="#e7afb2" />
<rect x="92.3" y="722" width="1.43" height="21.6" fill="#dd8c91" />
<rect x="93.68" y="722" width="1.43" height="21.6" fill="#e09b9f" />
<rect x="95.06" y="722" width="1.43" height="21.6" fill="#db868c" />
<rect x="96.45" y="722" width="1.43" height="21.6" fill="#de9296" />
<rect x="97.83" y="722" width="1.43" height="21.6" fill="#de8f94" />
<rect x="99.21" y="722" width="1.43" height="21.6" fill="#dc898e" />
<rect x="100.59" y="722" width="1.43" height="21.6" fill="#e29ea2" />
<rect x="101.97" y="722" width="1.43" height="21.6" fill="#e19b9f" />
<rect x="103.35" y="722" width="1.43" height="21.6" fill="#edc5c7" />
<rect x="104.73" y="722" width="1.43" height="21.6" fill="#e2a1a4" />
<rect x="106.12" y="722" width="1.43" height="21.6" fill="#de9094" />
<rect x="107.5" y="722" width="1.43" height="21.6" fill="#de9095" />
<rect x="108.88" y="722" width="1.43" height="21.6" fill="#e0989c" />
<rect x="110.26" y="722" width="1.43" height="21.6" fill="#e2a0a4" />
<rect x="111.64" y="722" width="1.43" height="21.6" fill="#e19b9f" />
<rect x="113.02" y="722" width="1.43" height="21.6" fill="#eababd" />
<rect x="114.41" y="722" width="1.43" height="21.6" fill="#e3a3a6" />
<rect x="115.79" y="722" width="1.43" height="21.6" fill="#de9297" />
<rect x="117.17" y="722" width="1.43" height="21.6" fill="#e29fa2" />
<rect x="118.55" y="722" width="1.43" height="21.6" fill="#de8f94" />
<rect x="119.93" y="722" width="1.43" height="21.6" fill="#eab9b9" />
<rect x="121.31" y="722" width="1.43" height="21.6" fill="#ebbebe" />
<rect x="122.69" y="722" width="1.43" height="21.6" fill="#eabbbc" />
<rect x="124.08" y="722" width="1.43" height="21.6" fill="#ecc2c2" />
<rect x="125.46" y="722" width="1.43" height="21.6" fill="#e9b3b6" />
<rect x="126.84" y="722" width="1.43" height="21.6" fill="#ebbbbd" />
<rect x="128.22" y="722" width="1.43" height="21.6" fill="#f4d9da" />
<rect x="129.6" y="722" width="1.43" height="21.6" fill="#e49fa4" />
<rect x="130.98" y="722" width="1.43" height="21.6" fill="#ebb9bc" />
<rect x="132.36" y="722" width="1.43" height="21.6" fill="#e9b3b6" />
<rect x="133.75" y="722" width="1.43" height="21.6" fill="#f6e2e3" />
<rect x="135.13" y="722" width="1.43" height="21.6" fill="#e7adb2" />
<rect x="136.51" y="722" width="1.43" height="21.6" fill="#edc2c5" />
<rect x="137.89" y="722" width="1.43" height="21.6" fill="#ebbbc0" />
<rect x="139.27" y="722" width="1.43" height="21.6" fill="#f4d9db" />
<rect x="140.65" y="722" width="1.43" height="21.6" fill="#f1d1d4" />
<rect x="142.04" y="722" width="1.43" height="21.6" fill="#ecbec2" />
<rect x="143.42" y="722" width="1.43" height="21.6" fill="#f0ced1" />
<rect x="144.8" y="722" width="1.43" height="21.6" fill="#edc3c7" />
<rect x="146.18" y="722" width="1.43" height="21.6" fill="#f3d9db" />
<rect x="147.56" y="722" width="1.43" height="21.6" fill="#f5dee0" />
<rect x="148.94" y="722" width="1.43" height="21.6" fill="#ecbfc3" />
<rect x="150.32" y="722" width="1.43" height="21.6" fill="#ecc1c5" />
<rect x="151.71" y="722" width="1.43" height="21.6" fill="#ecc0c4" />
<rect x="153.09" y="722" width="1.43" height="21.6" fill="#edc4c7" />
<rect x="154.47" y="722" width="1.43" height="21.6" fill="#e9b3b7" />
<rect x="155.85" y="722" width="1.43" height="21.6" fill="#f2d5d8" />
<rect x="157.23" y="722" width="1.43" height="21.6" fill="#e9b5ba" />
<rect x="158.61" y="722" width="1.43" height="21.6" fill="#e8b0b5" />
<rect x="160.0" y="722" width="1.43" height="21.6" fill="#ecbec2" />
<rect x="161.38" y="722" width="1.43" height="21.6" fill="#edc2c5" />
<rect x="162.76" y="722" width="1.43" height="21.6" fill="#f3d7d9" />
<rect x="164.14" y="722" width="1.43" height="21.6" fill="#eec4c8" />
<rect x="165.52" y="722" width="1.43" height="21.6" fill="#eab8bc" />
<rect x="166.9" y="722" width="1.43" height="21.6" fill="#e8afb4" />
<rect x="168.28" y="722" width="1.43" height="21.6" fill="#ecc0c3" />
<rect x="169.67" y="722" width="1.43" height="21.6" fill="#e4a1a7" />
<rect x="171.05" y="722" width="1.43" height="21.6" fill="#ebbcc1" />
<rect x="172.43" y="722" width="1.43" height="21.6" fill="#e7abaf" />
<rect x="173.81" y="722" width="1.43" height="21.6" fill="#e6a7ab" />
<rect x="175.19" y="722" width="1.43" height="21.6" fill="#df8d93" />
<rect x="176.57" y="722" width="1.43" height="21.6" fill="#e2989d" />
<rect x="177.95" y="722" width="1.43" height="21.6" fill="#eab6b9" />
<rect x="179.34" y="722" width="2.81" height="21.6" fill="#e4a0a4" />
<rect x="182.1" y="722" width="1.43" height="21.6" fill="#dc848a" />
<rect x="183.48" y="722" width="1.43" height="21.6" fill="#ebb9bc" />
<rect x="184.86" y="722" width="1.43" height="21.6" fill="#e29a9e" />
<rect x="186.24" y="722" width="1.43" height="21.6" fill="#e4a0a4" />
<rect x="187.63" y="722" width="1.43" height="21.6" fill="#e5a5a8" />
<rect x="189.01" y="722" width="1.43" height="21.6" fill="#e8aeb1" />
<rect x="190.39" y="722" width="1.43" height="21.6" fill="#df8d93" />
<rect x="191.77" y="722" width="1.43" height="21.6" fill="#e1959a" />
<rect x="193.15" y="722" width="1.43" height="21.6" fill="#e39fa3" />
<rect x="194.53" y="722" width="1.43" height="21.6" fill="#f0c9cb" />
<rect x="195.91" y="722" width="1.43" height="21.6" fill="#ebb3b7" />
<rect x="197.3" y="722" width="1.43" height="21.6" fill="#f1ccce" />
<rect x="198.68" y="722" width="1.43" height="21.6" fill="#edbbbe" />
<rect x="200.06" y="722" width="1.43" height="21.6" fill="#edbcbf" />
<rect x="201.44" y="722" width="1.43" height="21.6" fill="#f1cacc" />
<rect x="202.82" y="722" width="1.43" height="21.6" fill="#f0c7c9" />
<rect x="204.2" y="722" width="1.43" height="21.6" fill="#f1cbcd" />
<rect x="205.59" y="722" width="1.43" height="21.6" fill="#edbec1" />
<rect x="206.97" y="722" width="1.43" height="21.6" fill="#edbbbe" />
<rect x="208.35" y="722" width="1.43" height="21.6" fill="#e6a2a7" />
<rect x="209.73" y="722" width="1.43" height="21.6" fill="#eec1c3" />
<rect x="211.11" y="722" width="1.43" height="21.6" fill="#f2cfd1" />
<rect x="212.49" y="722" width="1.43" height="21.6" fill="#f4d6d8" />
<rect x="213.87" y="722" width="1.43" height="21.6" fill="#f5dadc" />
<rect x="215.26" y="722" width="1.43" height="21.6" fill="#f2cdcf" />
<rect x="216.64" y="722" width="1.43" height="21.6" fill="#f4d4d6" />
<rect x="218.02" y="722" width="1.43" height="21.6" fill="#f4d5d7" />
<rect x="219.4" y="722" width="1.43" height="21.6" fill="#efc1c5" />
<rect x="220.78" y="722" width="1.43" height="21.6" fill="#f0c7ca" />
<rect x="222.16" y="722" width="1.43" height="21.6" fill="#f4d7d9" />
<rect x="223.55" y="722" width="1.43" height="21.6" fill="#e2e2f2" />
<rect x="224.93" y="722" width="1.43" height="21.6" fill="#ebebf6" />
<rect x="226.31" y="722" width="1.43" height="21.6" fill="#dedff1" />
<rect x="227.69" y="722" width="1.43" height="21.6" fill="#dfdff1" />
<rect x="229.07" y="722" width="1.43" height="21.6" fill="#f2f2f9" />
<rect x="230.45" y="722" width="1.43" height="21.6" fill="#e4e4f3" />
<rect x="231.83" y="722" width="1.43" height="21.6" fill="#f4f4fa" />
<rect x="233.22" y="722" width="1.43" height="21.6" fill="#cecfea" />
<rect x="234.6" y="722" width="1.43" height="21.6" fill="#e3e3f3" />
<rect x="235.98" y="722" width="1.43" height="21.6" fill="#e2e3f2" />
<rect x="237.36" y="722" width="1.43" height="21.6" fill="#eaeaf6" />
<rect x="238.74" y="722" width="1.43" height="21.6" fill="#f1f1f9" />
<rect x="240.12" y="722" width="1.43" height="21.6" fill="#eaeaf6" />
<rect x="241.5" y="722" width="1.43" height="21.6" fill="#ececf7" />
<rect x="242.89" y="722" width="1.43" height="21.6" fill="#dddef0" />
<rect x="244.27" y="722" width="1.43" height="21.6" fill="#d5d5ec" />
<rect x="245.65" y="722" width="1.43" height="21.6" fill="#d9daee" />
<rect x="247.03" y="722" width="1.43" height="21.6" fill="#eaeaf6" />
<rect x="248.41" y="722" width="1.43" height="21.6" fill="#d9daee" />
<rect x="249.79" y="722" width="1.43" height="21.6" fill="#e4e4f3" />
<rect x="251.18" y="722" width="1.43" height="21.6" fill="#ebebf6" />
<rect x="252.56" y="722" width="1.43" height="21.6" fill="#bdc1e4" />
<rect x="253.94" y="722" width="1.43" height="21.6" fill="#d2d5ed" />
<rect x="255.32" y="722" width="1.43" height="21.6" fill="#c1c5e6" />
<rect x="256.7" y="722" width="1.43" height="21.6" fill="#e0e2f2" />
<rect x="258.08" y="722" width="1.43" height="21.6" fill="#dcdff1" />
<rect x="259.46" y="722" width="1.43" height="21.6" fill="#e4e6f4" />
<rect x="260.85" y="722" width="1.43" height="21.6" fill="#ccd0eb" />
<rect x="262.23" y="722" width="1.43" height="21.6" fill="#c7cbe8" />
<rect x="263.61" y="722" width="1.43" height="21.6" fill="#ccd0eb" />
<rect x="264.99" y="722" width="2.81" height="21.6" fill="#d0d4ec" />
<rect x="267.75" y="722" width="1.43" height="21.6" fill="#cdd1eb" />
<rect x="269.14" y="722" width="1.43" height="21.6" fill="#ccd0eb" />
<rect x="270.52" y="722" width="1.43" height="21.6" fill="#c4c8e7" />
<rect x="271.9" y="722" width="2.81" height="21.6" fill="#cdd1eb" />
<rect x="274.66" y="722" width="1.43" height="21.6" fill="#d2d5ed" />
<rect x="276.04" y="722" width="1.43" height="21.6" fill="#cfd3ec" />
<rect x="277.42" y="722" width="1.43" height="21.6" fill="#dde0f2" />
<rect x="278.81" y="722" width="1.43" height="21.6" fill="#cdd1eb" />
<rect x="280.19" y="722" width="1.43" height="21.6" fill="#c6cae8" />
<rect x="281.57" y="722" width="1.43" height="21.6" fill="#ced1eb" />
<rect x="282.95" y="722" width="1.43" height="21.6" fill="#caceea" />
<rect x="284.33" y="722" width="1.43" height="21.6" fill="#e4e6f4" />
<rect x="285.71" y="722" width="20.77" height="21.6" fill="#fdfcfc" />
<rect x="306.44" y="722" width="1.43" height="21.6" fill="#faedee" />
<rect x="307.82" y="722" width="1.43" height="21.6" fill="#faeef0" />
<rect x="309.2" y="722" width="1.43" height="21.6" fill="#f3d3d6" />
<rect x="310.58" y="722" width="1.43" height="21.6" fill="#f8e6e8" />
<rect x="311.96" y="722" width="1.43" height="21.6" fill="#f8e5e7" />
<rect x="313.34" y="722" width="1.43" height="21.6" fill="#f9ebed" />
<rect x="314.73" y="722" width="1.43" height="21.6" fill="#fbf1f2" />
<rect x="316.11" y="722" width="1.43" height="21.6" fill="#f8e6e8" />
<rect x="317.49" y="722" width="1.43" height="21.6" fill="#ecb8bd" />
<rect x="318.87" y="722" width="1.43" height="21.6" fill="#fbf1f2" />
<rect x="320.25" y="722" width="1.43" height="21.6" fill="#f5dadd" />
<rect x="321.63" y="722" width="1.43" height="21.6" fill="#f8e5e7" />
<rect x="323.01" y="722" width="1.43" height="21.6" fill="#efc5c9" />
<rect x="324.4" y="722" width="1.43" height="21.6" fill="#f8e4e6" />
<rect x="325.78" y="722" width="1.43" height="21.6" fill="#f5dcdf" />
<rect x="327.16" y="722" width="1.43" height="21.6" fill="#f3d4d7" />
<rect x="328.54" y="722" width="1.43" height="21.6" fill="#f6dfe1" />
<rect x="329.92" y="722" width="1.43" height="21.6" fill="#faebed" />
<rect x="331.3" y="722" width="1.43" height="21.6" fill="#fbf0f1" />
<rect x="332.68" y="722" width="1.43" height="21.6" fill="#f8e4e6" />
<rect x="334.07" y="722" width="1.43" height="21.6" fill="#f8e6e8" />
<rect x="335.45" y="722" width="1.43" height="21.6" fill="#f6dddf" />
<rect x="336.83" y="722" width="1.43" height="21.6" fill="#c1c5e6" />
<rect x="338.21" y="722" width="1.43" height="21.6" fill="#c8cce9" />
<rect x="339.59" y="722" width="1.43" height="21.6" fill="#c9cde9" />
<rect x="340.97" y="722" width="1.43" height="21.6" fill="#cfd2eb" />
<rect x="342.36" y="722" width="1.43" height="21.6" fill="#cbceea" />
<rect x="343.74" y="722" width="1.43" height="21.6" fill="#d0d3ec" />
<rect x="345.12" y="722" width="1.43" height="21.6" fill="#b7bbe1" />
<rect x="55.0" y="743.6" width="1.43" height="20.8" fill="#ebb4b8" />
<rect x="56.38" y="743.6" width="1.43" height="20.8" fill="#f2d1d4" />
<rect x="57.76" y="743.6" width="1.43" height="20.8" fill="#ecb9bd" />
<rect x="59.14" y="743.6" width="1.43" height="20.8" fill="#f3d1d4" />
<rect x="60.53" y="743.6" width="1.43" height="20.8" fill="#f1cdcf" />
<rect x="61.91" y="743.6" width="1.43" height="20.8" fill="#eec2c5" />
<rect x="63.29" y="743.6" width="1.43" height="20.8" fill="#eab1b5" />
<rect x="64.67" y="743.6" width="1.43" height="20.8" fill="#eab0b4" />
<rect x="66.05" y="743.6" width="1.43" height="20.8" fill="#eab3b7" />
<rect x="67.43" y="743.6" width="1.43" height="20.8" fill="#e6a4a8" />
<rect x="68.82" y="743.6" width="1.43" height="20.8" fill="#ecbabd" />
<rect x="70.2" y="743.6" width="1.43" height="20.8" fill="#e8a9ae" />
<rect x="71.58" y="743.6" width="1.43" height="20.8" fill="#eab2b6" />
<rect x="72.96" y="743.6" width="1.43" height="20.8" fill="#eab1b5" />
<rect x="74.34" y="743.6" width="1.43" height="20.8" fill="#e6a4a9" />
<rect x="75.72" y="743.6" width="1.43" height="20.8" fill="#e6a2a7" />
<rect x="77.1" y="743.6" width="1.43" height="20.8" fill="#e9adb2" />
<rect x="78.49" y="743.6" width="1.43" height="20.8" fill="#e9aeb3" />
<rect x="79.87" y="743.6" width="16.63" height="20.8" fill="#f2f2fb" />
<rect x="96.45" y="743.6" width="1.43" height="20.8" fill="#c3c5e8" />
<rect x="97.83" y="743.6" width="1.43" height="20.8" fill="#bcbee4" />
<rect x="99.21" y="743.6" width="1.43" height="20.8" fill="#c6c8e9" />
<rect x="100.59" y="743.6" width="1.43" height="20.8" fill="#d4d6ef" />
<rect x="101.97" y="743.6" width="1.43" height="20.8" fill="#d0d2ee" />
<rect x="103.35" y="743.6" width="1.43" height="20.8" fill="#e8e9f6" />
<rect x="104.73" y="743.6" width="1.43" height="20.8" fill="#d4d6ef" />
<rect x="106.12" y="743.6" width="1.43" height="20.8" fill="#cbcdeb" />
<rect x="107.5" y="743.6" width="1.43" height="20.8" fill="#bbbee4" />
<rect x="108.88" y="743.6" width="1.43" height="20.8" fill="#d2d4ef" />
<rect x="110.26" y="743.6" width="1.43" height="20.8" fill="#cdcfed" />
<rect x="111.64" y="743.6" width="1.43" height="20.8" fill="#d0d2ee" />
<rect x="113.02" y="743.6" width="1.43" height="20.8" fill="#e0e1f3" />
<rect x="114.41" y="743.6" width="1.43" height="20.8" fill="#c9cbea" />
<rect x="115.79" y="743.6" width="1.43" height="20.8" fill="#cfd1ed" />
<rect x="117.17" y="743.6" width="1.43" height="20.8" fill="#d4d6ef" />
<rect x="118.55" y="743.6" width="1.43" height="20.8" fill="#b1b4df" />
<rect x="119.93" y="743.6" width="1.43" height="20.8" fill="#c7c9e9" />
<rect x="121.31" y="743.6" width="1.43" height="20.8" fill="#d3d5ef" />
<rect x="122.69" y="743.6" width="1.43" height="20.8" fill="#c6c8e9" />
<rect x="124.08" y="743.6" width="1.43" height="20.8" fill="#d3d5ef" />
<rect x="125.46" y="743.6" width="1.43" height="20.8" fill="#bfc2e6" />
<rect x="126.84" y="743.6" width="1.43" height="20.8" fill="#d1d3ee" />
<rect x="128.22" y="743.6" width="1.43" height="20.8" fill="#e2e3f4" />
<rect x="129.6" y="743.6" width="1.43" height="20.8" fill="#bbbee4" />
<rect x="130.98" y="743.6" width="1.43" height="20.8" fill="#c0c3e6" />
<rect x="132.36" y="743.6" width="1.43" height="20.8" fill="#c7caea" />
<rect x="133.75" y="743.6" width="1.43" height="20.8" fill="#f4d9d9" />
<rect x="135.13" y="743.6" width="1.43" height="20.8" fill="#e8acad" />
<rect x="136.51" y="743.6" width="1.43" height="20.8" fill="#e9b1b2" />
<rect x="137.89" y="743.6" width="1.43" height="20.8" fill="#e6a7a8" />
<rect x="139.27" y="743.6" width="1.43" height="20.8" fill="#f4dada" />
<rect x="140.65" y="743.6" width="1.43" height="20.8" fill="#f0c9c9" />
<rect x="142.04" y="743.6" width="1.43" height="20.8" fill="#f6dcdc" />
<rect x="143.42" y="743.6" width="1.43" height="20.8" fill="#f7e3e3" />
<rect x="144.8" y="743.6" width="1.43" height="20.8" fill="#f6dcdc" />
<rect x="146.18" y="743.6" width="1.43" height="20.8" fill="#f9e8e8" />
<rect x="147.56" y="743.6" width="1.43" height="20.8" fill="#faefef" />
<rect x="148.94" y="743.6" width="1.43" height="20.8" fill="#f6dddd" />
<rect x="150.32" y="743.6" width="1.43" height="20.8" fill="#f6dede" />
<rect x="151.71" y="743.6" width="1.43" height="20.8" fill="#f6dfdf" />
<rect x="153.09" y="743.6" width="1.43" height="20.8" fill="#f7e1e1" />
<rect x="154.47" y="743.6" width="1.43" height="20.8" fill="#f3d1d2" />
<rect x="155.85" y="743.6" width="1.43" height="20.8" fill="#f8e7e7" />
<rect x="157.23" y="743.6" width="1.43" height="20.8" fill="#f6dddd" />
<rect x="158.61" y="743.6" width="2.81" height="20.8" fill="#f6dcdc" />
<rect x="161.38" y="743.6" width="1.43" height="20.8" fill="#f6dddd" />
<rect x="162.76" y="743.6" width="1.43" height="20.8" fill="#f9e9e9" />
<rect x="164.14" y="743.6" width="1.43" height="20.8" fill="#f6dfdf" />
<rect x="165.52" y="743.6" width="1.43" height="20.8" fill="#f5dbdb" />
<rect x="166.9" y="743.6" width="1.43" height="20.8" fill="#efc4c5" />
<rect x="168.28" y="743.6" width="1.43" height="20.8" fill="#f6dddd" />
<rect x="169.67" y="743.6" width="13.87" height="20.8" fill="#fdf8f8" />
<rect x="183.48" y="743.6" width="1.43" height="20.8" fill="#faf1f1" />
<rect x="184.86" y="743.6" width="1.43" height="20.8" fill="#f6dfe0" />
<rect x="186.24" y="743.6" width="2.81" height="20.8" fill="#faeeee" />
<rect x="189.01" y="743.6" width="1.43" height="20.8" fill="#faefef" />
<rect x="190.39" y="743.6" width="1.43" height="20.8" fill="#f6e1e2" />
<rect x="191.77" y="743.6" width="1.43" height="20.8" fill="#faefef" />
<rect x="193.15" y="743.6" width="1.43" height="20.8" fill="#f5dfe0" />
<rect x="194.53" y="743.6" width="1.43" height="20.8" fill="#adb1dd" />
<rect x="195.91" y="743.6" width="1.43" height="20.8" fill="#969ad2" />
<rect x="197.3" y="743.6" width="1.43" height="20.8" fill="#b3b6df" />
<rect x="198.68" y="743.6" width="1.43" height="20.8" fill="#9fa3d7" />
<rect x="200.06" y="743.6" width="1.43" height="20.8" fill="#a8acdb" />
<rect x="201.44" y="743.6" width="1.43" height="20.8" fill="#abafdc" />
<rect x="202.82" y="743.6" width="1.43" height="20.8" fill="#aeb2dd" />
<rect x="204.2" y="743.6" width="1.43" height="20.8" fill="#b4b7e0" />
<rect x="205.59" y="743.6" width="1.43" height="20.8" fill="#9ea2d6" />
<rect x="206.97" y="743.6" width="1.43" height="20.8" fill="#a2a7d8" />
<rect x="208.35" y="743.6" width="1.43" height="20.8" fill="#a7abdb" />
<rect x="209.73" y="743.6" width="1.43" height="20.8" fill="#a2a6d8" />
<rect x="211.11" y="743.6" width="1.43" height="20.8" fill="#b7bae1" />
<rect x="212.49" y="743.6" width="1.43" height="20.8" fill="#b2b6df" />
<rect x="213.87" y="743.6" width="1.43" height="20.8" fill="#b0b3de" />
<rect x="215.26" y="743.6" width="1.43" height="20.8" fill="#9da1d6" />
<rect x="216.64" y="743.6" width="1.43" height="20.8" fill="#aeb1dd" />
<rect x="218.02" y="743.6" width="1.43" height="20.8" fill="#a7abda" />
<rect x="219.4" y="743.6" width="1.43" height="20.8" fill="#a9addb" />
<rect x="220.78" y="743.6" width="1.43" height="20.8" fill="#a3a7d8" />
<rect x="222.16" y="743.6" width="1.43" height="20.8" fill="#afb2de" />
<rect x="223.55" y="743.6" width="1.43" height="20.8" fill="#a5a9da" />
<rect x="224.93" y="743.6" width="1.43" height="20.8" fill="#a9addc" />
<rect x="226.31" y="743.6" width="1.43" height="20.8" fill="#989cd4" />
<rect x="227.69" y="743.6" width="1.43" height="20.8" fill="#9196d1" />
<rect x="229.07" y="743.6" width="1.43" height="20.8" fill="#cbcde9" />
<rect x="230.45" y="743.6" width="1.43" height="20.8" fill="#a5a9da" />
<rect x="231.83" y="743.6" width="1.43" height="20.8" fill="#cdcfea" />
<rect x="233.22" y="743.6" width="1.43" height="20.8" fill="#9a9ed5" />
<rect x="234.6" y="743.6" width="1.43" height="20.8" fill="#a7abdb" />
<rect x="235.98" y="743.6" width="1.43" height="20.8" fill="#9ca0d6" />
<rect x="237.36" y="743.6" width="1.43" height="20.8" fill="#979cd4" />
<rect x="238.74" y="743.6" width="1.43" height="20.8" fill="#c8cbe9" />
<rect x="240.12" y="743.6" width="1.43" height="20.8" fill="#a5a9da" />
<rect x="241.5" y="743.6" width="1.43" height="20.8" fill="#b1b4df" />
<rect x="242.89" y="743.6" width="1.43" height="20.8" fill="#a8abdb" />
<rect x="244.27" y="743.6" width="1.43" height="20.8" fill="#8b90ce" />
<rect x="245.65" y="743.6" width="1.43" height="20.8" fill="#9a9ed5" />
<rect x="247.03" y="743.6" width="1.43" height="20.8" fill="#a5a9da" />
<rect x="248.41" y="743.6" width="1.43" height="20.8" fill="#a6aada" />
<rect x="249.79" y="743.6" width="1.43" height="20.8" fill="#9da1d6" />
<rect x="251.18" y="743.6" width="1.43" height="20.8" fill="#adb1dd" />
<rect x="252.56" y="743.6" width="1.43" height="20.8" fill="#959ad3" />
<rect x="253.94" y="743.6" width="1.43" height="20.8" fill="#b2b6df" />
<rect x="255.32" y="743.6" width="1.43" height="20.8" fill="#9ca0d6" />
<rect x="256.7" y="743.6" width="1.43" height="20.8" fill="#cacde9" />
<rect x="258.08" y="743.6" width="1.43" height="20.8" fill="#bec1e4" />
<rect x="259.46" y="743.6" width="1.43" height="20.8" fill="#cdd0eb" />
<rect x="260.85" y="743.6" width="1.43" height="20.8" fill="#a5a8da" />
<rect x="262.23" y="743.6" width="1.43" height="20.8" fill="#a1a5d8" />
<rect x="263.61" y="743.6" width="1.43" height="20.8" fill="#a9addc" />
<rect x="264.99" y="743.6" width="1.43" height="20.8" fill="#c3c6e7" />
<rect x="266.37" y="743.6" width="1.43" height="20.8" fill="#c7cae8" />
<rect x="267.75" y="743.6" width="1.43" height="20.8" fill="#bec2e5" />
<rect x="269.14" y="743.6" width="1.43" height="20.8" fill="#bfc3e5" />
<rect x="270.52" y="743.6" width="1.43" height="20.8" fill="#bbbfe3" />
<rect x="271.9" y="743.6" width="2.81" height="20.8" fill="#c0c4e6" />
<rect x="274.66" y="743.6" width="1.43" height="20.8" fill="#c5c8e8" />
<rect x="276.04" y="743.6" width="1.43" height="20.8" fill="#c2c5e6" />
<rect x="277.42" y="743.6" width="1.43" height="20.8" fill="#d7d9ef" />
<rect x="278.81" y="743.6" width="1.43" height="20.8" fill="#b9bde3" />
<rect x="280.19" y="743.6" width="1.43" height="20.8" fill="#b1b5df" />
<rect x="281.57" y="743.6" width="1.43" height="20.8" fill="#c5c8e8" />
<rect x="282.95" y="743.6" width="1.43" height="20.8" fill="#c0c4e6" />
<rect x="284.33" y="743.6" width="1.43" height="20.8" fill="#dee0f2" />
<rect x="285.71" y="743.6" width="1.43" height="20.8" fill="#9da1d5" />
<rect x="287.09" y="743.6" width="1.43" height="20.8" fill="#a0a4d6" />
<rect x="288.48" y="743.6" width="1.43" height="20.8" fill="#979cd3" />
<rect x="289.86" y="743.6" width="1.43" height="20.8" fill="#999dd3" />
<rect x="291.24" y="743.6" width="1.43" height="20.8" fill="#959ad2" />
<rect x="292.62" y="743.6" width="1.43" height="20.8" fill="#c5c7e6" />
<rect x="294.0" y="743.6" width="1.43" height="20.8" fill="#9498d1" />
<rect x="295.38" y="743.6" width="1.43" height="20.8" fill="#cbcde8" />
<rect x="296.77" y="743.6" width="1.43" height="20.8" fill="#9da1d5" />
<rect x="298.15" y="743.6" width="1.43" height="20.8" fill="#9195d0" />
<rect x="299.53" y="743.6" width="1.43" height="20.8" fill="#d0d1eb" />
<rect x="300.91" y="743.6" width="1.43" height="20.8" fill="#9095cf" />
<rect x="302.29" y="743.6" width="1.43" height="20.8" fill="#a3a6d7" />
<rect x="303.67" y="743.6" width="1.43" height="20.8" fill="#a5a9d8" />
<rect x="305.05" y="743.6" width="1.43" height="20.8" fill="#a1a4d7" />
<rect x="306.44" y="743.6" width="1.43" height="20.8" fill="#b5b8df" />
<rect x="307.82" y="743.6" width="1.43" height="20.8" fill="#b9bce1" />
<rect x="309.2" y="743.6" width="1.43" height="20.8" fill="#969ad2" />
<rect x="310.58" y="743.6" width="1.43" height="20.8" fill="#9ea2d5" />
<rect x="311.96" y="743.6" width="1.43" height="20.8" fill="#9a9ed4" />
<rect x="313.34" y="743.6" width="1.43" height="20.8" fill="#bbbee2" />
<rect x="314.73" y="743.6" width="1.43" height="20.8" fill="#c7c9e7" />
<rect x="316.11" y="743.6" width="1.43" height="20.8" fill="#a0a3d6" />
<rect x="317.49" y="743.6" width="1.43" height="20.8" fill="#8c90cd" />
<rect x="318.87" y="743.6" width="1.43" height="20.8" fill="#cfd1ea" />
<rect x="320.25" y="743.6" width="1.43" height="20.8" fill="#a0a4d6" />
<rect x="321.63" y="743.6" width="1.43" height="20.8" fill="#9fa3d6" />
<rect x="323.01" y="743.6" width="1.43" height="20.8" fill="#9296d0" />
<rect x="324.4" y="743.6" width="1.43" height="20.8" fill="#a0a4d6" />
<rect x="325.78" y="743.6" width="1.43" height="20.8" fill="#989cd3" />
<rect x="327.16" y="743.6" width="2.81" height="20.8" fill="#9397d1" />
<rect x="329.92" y="743.6" width="1.43" height="20.8" fill="#b0b3dd" />
<rect x="331.3" y="743.6" width="1.43" height="20.8" fill="#c8cae7" />
<rect x="332.68" y="743.6" width="1.43" height="20.8" fill="#9b9fd4" />
<rect x="334.07" y="743.6" width="1.43" height="20.8" fill="#989cd3" />
<rect x="335.45" y="743.6" width="1.43" height="20.8" fill="#979bd2" />
<rect x="336.83" y="743.6" width="9.72" height="20.8" fill="#f4f4fa" />
<path d="M56.42,722.40a0.78,0.78 0 1,0 1.56,0a0.78,0.78 0 1,0 -1.56,0M58.45,722.40a0.78,0.78 0 1,0 1.56,0a0.78,0.78 0 1,0 -1.56,0M60.48,722.40a0.78,0.78 0 1,0 1.56,0a0.78,0.78 0 1,0 -1.56,0M62.51,722.40a0.78,0.78 0 1,0 1.56,0a0.78,0.78 0 1,0 -1.56,0M64.53,722.40a0.78,0.78 0 1,0 1.56,0a0.78,0.78 0 1,0 -1.56,0M66.56,722.40a0.78,0.78 0 1,0 1.56,0a0.78,0.78 0 1,0 -1.56,0M68.59,722.40a0.78,0.78 0 1,0 1.56,0a0.78,0.78 0 1,0 -1.56,0M70.62,722.40a0.78,0.78 0 1,0 1.56,0a0.78,0.78 0 1,0 -1.56,0M70.62,724.38a0.78,0.78 0 1,0 1.56,0a0.78,0.78 0 1,0 -1.56,0M70.62,726.36a0.78,0.78 0 1,0 1.56,0a0.78,0.78 0 1,0 -1.56,0M70.62,728.35a0.78,0.78 0 1,0 1.56,0a0.78,0.78 0 1,0 -1.56,0M70.62,730.33a0.78,0.78 0 1,0 1.56,0a0.78,0.78 0 1,0 -1.56,0M70.62,732.31a0.78,0.78 0 1,0 1.56,0a0.78,0.78 0 1,0 -1.56,0M70.62,734.29a0.78,0.78 0 1,0 1.56,0a0.78,0.78 0 1,0 -1.56,0M70.62,736.27a0.78,0.78 0 1,0 1.56,0a0.78,0.78 0 1,0 -1.56,0M70.62,738.25a0.78,0.78 0 1,0 1.56,0a0.78,0.78 0 1,0 -1.56,0M70.62,740.24a0.78,0.78 0 1,0 1.56,0a0.78,0.78 0 1,0 -1.56,0M70.62,742.22a0.78,0.78 0 1,0 1.56,0a0.78,0.78 0 1,0 -1.56,0M70.62,744.20a0.78,0.78 0 1,0 1.56,0a0.78,0.78 0 1,0 -1.56,0M68.59,744.20a0.78,0.78 0 1,0 1.56,0a0.78,0.78 0 1,0 -1.56,0M66.56,744.20a0.78,0.78 0 1,0 1.56,0a0.78,0.78 0 1,0 -1.56,0M64.53,744.20a0.78,0.78 0 1,0 1.56,0a0.78,0.78 0 1,0 -1.56,0M62.51,744.20a0.78,0.78 0 1,0 1.56,0a0.78,0.78 0 1,0 -1.56,0M60.48,744.20a0.78,0.78 0 1,0 1.56,0a0.78,0.78 0 1,0 -1.56,0M58.45,744.20a0.78,0.78 0 1,0 1.56,0a0.78,0.78 0 1,0 -1.56,0M56.42,744.20a0.78,0.78 0 1,0 1.56,0a0.78,0.78 0 1,0 -1.56,0M56.42,742.22a0.78,0.78 0 1,0 1.56,0a0.78,0.78 0 1,0 -1.56,0M56.42,740.24a0.78,0.78 0 1,0 1.56,0a0.78,0.78 0 1,0 -1.56,0M56.42,738.25a0.78,0.78 0 1,0 1.56,0a0.78,0.78 0 1,0 -1.56,0M56.42,736.27a0.78,0.78 0 1,0 1.56,0a0.78,0.78 0 1,0 -1.56,0M56.42,734.29a0.78,0.78 0 1,0 1.56,0a0.78,0.78 0 1,0 -1.56,0M56.42,732.31a0.78,0.78 0 1,0 1.56,0a0.78,0.78 0 1,0 -1.56,0M56.42,730.33a0.78,0.78 0 1,0 1.56,0a0.78,0.78 0 1,0 -1.56,0M56.42,728.35a0.78,0.78 0 1,0 1.56,0a0.78,0.78 0 1,0 -1.56,0M56.42,726.36a0.78,0.78 0 1,0 1.56,0a0.78,0.78 0 1,0 -1.56,0M56.42,724.38a0.78,0.78 0 1,0 1.56,0a0.78,0.78 0 1,0 -1.56,0" fill="#d6248e"/>
<path d="M79.82,722.40a0.78,0.78 0 1,0 1.56,0a0.78,0.78 0 1,0 -1.56,0M81.82,722.40a0.78,0.78 0 1,0 1.56,0a0.78,0.78 0 1,0 -1.56,0M83.82,722.40a0.78,0.78 0 1,0 1.56,0a0.78,0.78 0 1,0 -1.56,0M85.82,722.40a0.78,0.78 0 1,0 1.56,0a0.78,0.78 0 1,0 -1.56,0M87.82,722.40a0.78,0.78 0 1,0 1.56,0a0.78,0.78 0 1,0 -1.56,0M89.82,722.40a0.78,0.78 0 1,0 1.56,0a0.78,0.78 0 1,0 -1.56,0M91.82,722.40a0.78,0.78 0 1,0 1.56,0a0.78,0.78 0 1,0 -1.56,0M93.82,722.40a0.78,0.78 0 1,0 1.56,0a0.78,0.78 0 1,0 -1.56,0M95.82,722.40a0.78,0.78 0 1,0 1.56,0a0.78,0.78 0 1,0 -1.56,0M97.82,722.40a0.78,0.78 0 1,0 1.56,0a0.78,0.78 0 1,0 -1.56,0M99.82,722.40a0.78,0.78 0 1,0 1.56,0a0.78,0.78 0 1,0 -1.56,0M101.82,722.40a0.78,0.78 0 1,0 1.56,0a0.78,0.78 0 1,0 -1.56,0M103.82,722.40a0.78,0.78 0 1,0 1.56,0a0.78,0.78 0 1,0 -1.56,0M105.82,722.40a0.78,0.78 0 1,0 1.56,0a0.78,0.78 0 1,0 -1.56,0M107.82,722.40a0.78,0.78 0 1,0 1.56,0a0.78,0.78 0 1,0 -1.56,0M109.82,722.40a0.78,0.78 0 1,0 1.56,0a0.78,0.78 0 1,0 -1.56,0M111.82,722.40a0.78,0.78 0 1,0 1.56,0a0.78,0.78 0 1,0 -1.56,0M113.82,722.40a0.78,0.78 0 1,0 1.56,0a0.78,0.78 0 1,0 -1.56,0M115.82,722.40a0.78,0.78 0 1,0 1.56,0a0.78,0.78 0 1,0 -1.56,0M117.82,722.40a0.78,0.78 0 1,0 1.56,0a0.78,0.78 0 1,0 -1.56,0M119.82,722.40a0.78,0.78 0 1,0 1.56,0a0.78,0.78 0 1,0 -1.56,0M121.82,722.40a0.78,0.78 0 1,0 1.56,0a0.78,0.78 0 1,0 -1.56,0M123.82,722.40a0.78,0.78 0 1,0 1.56,0a0.78,0.78 0 1,0 -1.56,0M125.82,722.40a0.78,0.78 0 1,0 1.56,0a0.78,0.78 0 1,0 -1.56,0M127.82,722.40a0.78,0.78 0 1,0 1.56,0a0.78,0.78 0 1,0 -1.56,0M129.82,722.40a0.78,0.78 0 1,0 1.56,0a0.78,0.78 0 1,0 -1.56,0M131.82,722.40a0.78,0.78 0 1,0 1.56,0a0.78,0.78 0 1,0 -1.56,0M133.82,722.40a0.78,0.78 0 1,0 1.56,0a0.78,0.78 0 1,0 -1.56,0M135.82,722.40a0.78,0.78 0 1,0 1.56,0a0.78,0.78 0 1,0 -1.56,0M137.82,722.40a0.78,0.78 0 1,0 1.56,0a0.78,0.78 0 1,0 -1.56,0M139.82,722.40a0.78,0.78 0 1,0 1.56,0a0.78,0.78 0 1,0 -1.56,0M141.82,722.40a0.78,0.78 0 1,0 1.56,0a0.78,0.78 0 1,0 -1.56,0M143.82,722.40a0.78,0.78 0 1,0 1.56,0a0.78,0.78 0 1,0 -1.56,0M145.82,722.40a0.78,0.78 0 1,0 1.56,0a0.78,0.78 0 1,0 -1.56,0M147.82,722.40a0.78,0.78 0 1,0 1.56,0a0.78,0.78 0 1,0 -1.56,0M149.82,722.40a0.78,0.78 0 1,0 1.56,0a0.78,0.78 0 1,0 -1.56,0M151.82,722.40a0.78,0.78 0 1,0 1.56,0a0.78,0.78 0 1,0 -1.56,0M153.82,722.40a0.78,0.78 0 1,0 1.56,0a0.78,0.78 0 1,0 -1.56,0M155.82,722.40a0.78,0.78 0 1,0 1.56,0a0.78,0.78 0 1,0 -1.56,0M157.82,722.40a0.78,0.78 0 1,0 1.56,0a0.78,0.78 0 1,0 -1.56,0M159.82,722.40a0.78,0.78 0 1,0 1.56,0a0.78,0.78 0 1,0 -1.56,0M161.82,722.40a0.78,0.78 0 1,0 1.56,0a0.78,0.78 0 1,0 -1.56,0M163.82,722.40a0.78,0.78 0 1,0 1.56,0a0.78,0.78 0 1,0 -1.56,0M165.82,722.40a0.78,0.78 0 1,0 1.56,0a0.78,0.78 0 1,0 -1.56,0M167.82,722.40a0.78,0.78 0 1,0 1.56,0a0.78,0.78 0 1,0 -1.56,0M169.82,722.40a0.78,0.78 0 1,0 1.56,0a0.78,0.78 0 1,0 -1.56,0M171.82,722.40a0.78,0.78 0 1,0 1.56,0a0.78,0.78 0 1,0 -1.56,0M173.82,722.40a0.78,0.78 0 1,0 1.56,0a0.78,0.78 0 1,0 -1.56,0M175.82,722.40a0.78,0.78 0 1,0 1.56,0a0.78,0.78 0 1,0 -1.56,0M177.82,722.40a0.78,0.78 0 1,0 1.56,0a0.78,0.78 0 1,0 -1.56,0M179.82,722.40a0.78,0.78 0 1,0 1.56,0a0.78,0.78 0 1,0 -1.56,0M181.82,722.40a0.78,0.78 0 1,0 1.56,0a0.78,0.78 0 1,0 -1.56,0M183.82,722.40a0.78,0.78 0 1,0 1.56,0a0.78,0.78 0 1,0 -1.56,0M185.82,722.40a0.78,0.78 0 1,0 1.56,0a0.78,0.78 0 1,0 -1.56,0M187.82,722.40a0.78,0.78 0 1,0 1.56,0a0.78,0.78 0 1,0 -1.56,0M189.82,722.40a0.78,0.78 0 1,0 1.56,0a0.78,0.78 0 1,0 -1.56,0M191.82,722.40a0.78,0.78 0 1,0 1.56,0a0.78,0.78 0 1,0 -1.56,0M193.82,722.40a0.78,0.78 0 1,0 1.56,0a0.78,0.78 0 1,0 -1.56,0M195.82,722.40a0.78,0.78 0 1,0 1.56,0a0.78,0.78 0 1,0 -1.56,0M197.82,722.40a0.78,0.78 0 1,0 1.56,0a0.78,0.78 0 1,0 -1.56,0M199.82,722.40a0.78,0.78 0 1,0 1.56,0a0.78,0.78 0 1,0 -1.56,0M201.82,722.40a0.78,0.78 0 1,0 1.56,0a0.78,0.78 0 1,0 -1.56,0M203.82,722.40a0.78,0.78 0 1,0 1.56,0a0.78,0.78 0 1,0 -1.56,0M205.82,722.40a0.78,0.78 0 1,0 1.56,0a0.78,0.78 0 1,0 -1.56,0M207.82,722.40a0.78,0.78 0 1,0 1.56,0a0.78,0.78 0 1,0 -1.56,0M209.82,722.40a0.78,0.78 0 1,0 1.56,0a0.78,0.78 0 1,0 -1.56,0M211.82,722.40a0.78,0.78 0 1,0 1.56,0a0.78,0.78 0 1,0 -1.56,0M211.82,724.35a0.78,0.78 0 1,0 1.56,0a0.78,0.78 0 1,0 -1.56,0M211.82,726.31a0.78,0.78 0 1,0 1.56,0a0.78,0.78 0 1,0 -1.56,0M211.82,728.26a0.78,0.78 0 1,0 1.56,0a0.78,0.78 0 1,0 -1.56,0M211.82,730.22a0.78,0.78 0 1,0 1.56,0a0.78,0.78 0 1,0 -1.56,0M211.82,732.17a0.78,0.78 0 1,0 1.56,0a0.78,0.78 0 1,0 -1.56,0M211.82,734.13a0.78,0.78 0 1,0 1.56,0a0.78,0.78 0 1,0 -1.56,0M211.82,736.08a0.78,0.78 0 1,0 1.56,0a0.78,0.78 0 1,0 -1.56,0M211.82,738.04a0.78,0.78 0 1,0 1.56,0a0.78,0.78 0 1,0 -1.56,0M211.82,739.99a0.78,0.78 0 1,0 1.56,0a0.78,0.78 0 1,0 -1.56,0M211.82,741.95a0.78,0.78 0 1,0 1.56,0a0.78,0.78 0 1,0 -1.56,0M211.82,743.90a0.78,0.78 0 1,0 1.56,0a0.78,0.78 0 1,0 -1.56,0M209.82,743.90a0.78,0.78 0 1,0 1.56,0a0.78,0.78 0 1,0 -1.56,0M207.82,743.90a0.78,0.78 0 1,0 1.56,0a0.78,0.78 0 1,0 -1.56,0M205.82,743.90a0.78,0.78 0 1,0 1.56,0a0.78,0.78 0 1,0 -1.56,0M203.82,743.90a0.78,0.78 0 1,0 1.56,0a0.78,0.78 0 1,0 -1.56,0M201.82,743.90a0.78,0.78 0 1,0 1.56,0a0.78,0.78 0 1,0 -1.56,0M199.82,743.90a0.78,0.78 0 1,0 1.56,0a0.78,0.78 0 1,0 -1.56,0M197.82,743.90a0.78,0.78 0 1,0 1.56,0a0.78,0.78 0 1,0 -1.56,0M195.82,743.90a0.78,0.78 0 1,0 1.56,0a0.78,0.78 0 1,0 -1.56,0M193.82,743.90a0.78,0.78 0 1,0 1.56,0a0.78,0.78 0 1,0 -1.56,0M191.82,743.90a0.78,0.78 0 1,0 1.56,0a0.78,0.78 0 1,0 -1.56,0M189.82,743.90a0.78,0.78 0 1,0 1.56,0a0.78,0.78 0 1,0 -1.56,0M187.82,743.90a0.78,0.78 0 1,0 1.56,0a0.78,0.78 0 1,0 -1.56,0M185.82,743.90a0.78,0.78 0 1,0 1.56,0a0.78,0.78 0 1,0 -1.56,0M183.82,743.90a0.78,0.78 0 1,0 1.56,0a0.78,0.78 0 1,0 -1.56,0M181.82,743.90a0.78,0.78 0 1,0 1.56,0a0.78,0.78 0 1,0 -1.56,0M179.82,743.90a0.78,0.78 0 1,0 1.56,0a0.78,0.78 0 1,0 -1.56,0M177.82,743.90a0.78,0.78 0 1,0 1.56,0a0.78,0.78 0 1,0 -1.56,0M175.82,743.90a0.78,0.78 0 1,0 1.56,0a0.78,0.78 0 1,0 -1.56,0M173.82,743.90a0.78,0.78 0 1,0 1.56,0a0.78,0.78 0 1,0 -1.56,0M171.82,743.90a0.78,0.78 0 1,0 1.56,0a0.78,0.78 0 1,0 -1.56,0M169.82,743.90a0.78,0.78 0 1,0 1.56,0a0.78,0.78 0 1,0 -1.56,0M167.82,743.90a0.78,0.78 0 1,0 1.56,0a0.78,0.78 0 1,0 -1.56,0M165.82,743.90a0.78,0.78 0 1,0 1.56,0a0.78,0.78 0 1,0 -1.56,0M163.82,743.90a0.78,0.78 0 1,0 1.56,0a0.78,0.78 0 1,0 -1.56,0M161.82,743.90a0.78,0.78 0 1,0 1.56,0a0.78,0.78 0 1,0 -1.56,0M159.82,743.90a0.78,0.78 0 1,0 1.56,0a0.78,0.78 0 1,0 -1.56,0M157.82,743.90a0.78,0.78 0 1,0 1.56,0a0.78,0.78 0 1,0 -1.56,0M155.82,743.90a0.78,0.78 0 1,0 1.56,0a0.78,0.78 0 1,0 -1.56,0M153.82,743.90a0.78,0.78 0 1,0 1.56,0a0.78,0.78 0 1,0 -1.56,0M151.82,743.90a0.78,0.78 0 1,0 1.56,0a0.78,0.78 0 1,0 -1.56,0M149.82,743.90a0.78,0.78 0 1,0 1.56,0a0.78,0.78 0 1,0 -1.56,0M147.82,743.90a0.78,0.78 0 1,0 1.56,0a0.78,0.78 0 1,0 -1.56,0M145.82,743.90a0.78,0.78 0 1,0 1.56,0a0.78,0.78 0 1,0 -1.56,0M143.82,743.90a0.78,0.78 0 1,0 1.56,0a0.78,0.78 0 1,0 -1.56,0M141.82,743.90a0.78,0.78 0 1,0 1.56,0a0.78,0.78 0 1,0 -1.56,0M139.82,743.90a0.78,0.78 0 1,0 1.56,0a0.78,0.78 0 1,0 -1.56,0M137.82,743.90a0.78,0.78 0 1,0 1.56,0a0.78,0.78 0 1,0 -1.56,0M135.82,743.90a0.78,0.78 0 1,0 1.56,0a0.78,0.78 0 1,0 -1.56,0M133.82,743.90a0.78,0.78 0 1,0 1.56,0a0.78,0.78 0 1,0 -1.56,0M131.82,743.90a0.78,0.78 0 1,0 1.56,0a0.78,0.78 0 1,0 -1.56,0M129.82,743.90a0.78,0.78 0 1,0 1.56,0a0.78,0.78 0 1,0 -1.56,0M127.82,743.90a0.78,0.78 0 1,0 1.56,0a0.78,0.78 0 1,0 -1.56,0M125.82,743.90a0.78,0.78 0 1,0 1.56,0a0.78,0.78 0 1,0 -1.56,0M123.82,743.90a0.78,0.78 0 1,0 1.56,0a0.78,0.78 0 1,0 -1.56,0M121.82,743.90a0.78,0.78 0 1,0 1.56,0a0.78,0.78 0 1,0 -1.56,0M119.82,743.90a0.78,0.78 0 1,0 1.56,0a0.78,0.78 0 1,0 -1.56,0M117.82,743.90a0.78,0.78 0 1,0 1.56,0a0.78,0.78 0 1,0 -1.56,0M115.82,743.90a0.78,0.78 0 1,0 1.56,0a0.78,0.78 0 1,0 -1.56,0M113.82,743.90a0.78,0.78 0 1,0 1.56,0a0.78,0.78 0 1,0 -1.56,0M111.82,743.90a0.78,0.78 0 1,0 1.56,0a0.78,0.78 0 1,0 -1.56,0M109.82,743.90a0.78,0.78 0 1,0 1.56,0a0.78,0.78 0 1,0 -1.56,0M107.82,743.90a0.78,0.78 0 1,0 1.56,0a0.78,0.78 0 1,0 -1.56,0M105.82,743.90a0.78,0.78 0 1,0 1.56,0a0.78,0.78 0 1,0 -1.56,0M103.82,743.90a0.78,0.78 0 1,0 1.56,0a0.78,0.78 0 1,0 -1.56,0M101.82,743.90a0.78,0.78 0 1,0 1.56,0a0.78,0.78 0 1,0 -1.56,0M99.82,743.90a0.78,0.78 0 1,0 1.56,0a0.78,0.78 0 1,0 -1.56,0M97.82,743.90a0.78,0.78 0 1,0 1.56,0a0.78,0.78 0 1,0 -1.56,0M95.82,743.90a0.78,0.78 0 1,0 1.56,0a0.78,0.78 0 1,0 -1.56,0M93.82,743.90a0.78,0.78 0 1,0 1.56,0a0.78,0.78 0 1,0 -1.56,0M91.82,743.90a0.78,0.78 0 1,0 1.56,0a0.78,0.78 0 1,0 -1.56,0M89.82,743.90a0.78,0.78 0 1,0 1.56,0a0.78,0.78 0 1,0 -1.56,0M87.82,743.90a0.78,0.78 0 1,0 1.56,0a0.78,0.78 0 1,0 -1.56,0M85.82,743.90a0.78,0.78 0 1,0 1.56,0a0.78,0.78 0 1,0 -1.56,0M83.82,743.90a0.78,0.78 0 1,0 1.56,0a0.78,0.78 0 1,0 -1.56,0M81.82,743.90a0.78,0.78 0 1,0 1.56,0a0.78,0.78 0 1,0 -1.56,0M79.82,743.90a0.78,0.78 0 1,0 1.56,0a0.78,0.78 0 1,0 -1.56,0M79.82,741.95a0.78,0.78 0 1,0 1.56,0a0.78,0.78 0 1,0 -1.56,0M79.82,739.99a0.78,0.78 0 1,0 1.56,0a0.78,0.78 0 1,0 -1.56,0M79.82,738.04a0.78,0.78 0 1,0 1.56,0a0.78,0.78 0 1,0 -1.56,0M79.82,736.08a0.78,0.78 0 1,0 1.56,0a0.78,0.78 0 1,0 -1.56,0M79.82,734.13a0.78,0.78 0 1,0 1.56,0a0.78,0.78 0 1,0 -1.56,0M79.82,732.17a0.78,0.78 0 1,0 1.56,0a0.78,0.78 0 1,0 -1.56,0M79.82,730.22a0.78,0.78 0 1,0 1.56,0a0.78,0.78 0 1,0 -1.56,0M79.82,728.26a0.78,0.78 0 1,0 1.56,0a0.78,0.78 0 1,0 -1.56,0M79.82,726.31a0.78,0.78 0 1,0 1.56,0a0.78,0.78 0 1,0 -1.56,0M79.82,724.35a0.78,0.78 0 1,0 1.56,0a0.78,0.78 0 1,0 -1.56,0" fill="#d6248e"/>
<path d="M79.82,744.20a0.78,0.78 0 1,0 1.56,0a0.78,0.78 0 1,0 -1.56,0M81.81,744.20a0.78,0.78 0 1,0 1.56,0a0.78,0.78 0 1,0 -1.56,0M83.79,744.20a0.78,0.78 0 1,0 1.56,0a0.78,0.78 0 1,0 -1.56,0M85.78,744.20a0.78,0.78 0 1,0 1.56,0a0.78,0.78 0 1,0 -1.56,0M87.76,744.20a0.78,0.78 0 1,0 1.56,0a0.78,0.78 0 1,0 -1.56,0M89.75,744.20a0.78,0.78 0 1,0 1.56,0a0.78,0.78 0 1,0 -1.56,0M91.73,744.20a0.78,0.78 0 1,0 1.56,0a0.78,0.78 0 1,0 -1.56,0M93.72,744.20a0.78,0.78 0 1,0 1.56,0a0.78,0.78 0 1,0 -1.56,0M95.70,744.20a0.78,0.78 0 1,0 1.56,0a0.78,0.78 0 1,0 -1.56,0M97.69,744.20a0.78,0.78 0 1,0 1.56,0a0.78,0.78 0 1,0 -1.56,0M99.67,744.20a0.78,0.78 0 1,0 1.56,0a0.78,0.78 0 1,0 -1.56,0M101.66,744.20a0.78,0.78 0 1,0 1.56,0a0.78,0.78 0 1,0 -1.56,0M103.64,744.20a0.78,0.78 0 1,0 1.56,0a0.78,0.78 0 1,0 -1.56,0M105.63,744.20a0.78,0.78 0 1,0 1.56,0a0.78,0.78 0 1,0 -1.56,0M107.61,744.20a0.78,0.78 0 1,0 1.56,0a0.78,0.78 0 1,0 -1.56,0M109.60,744.20a0.78,0.78 0 1,0 1.56,0a0.78,0.78 0 1,0 -1.56,0M111.58,744.20a0.78,0.78 0 1,0 1.56,0a0.78,0.78 0 1,0 -1.56,0M113.57,744.20a0.78,0.78 0 1,0 1.56,0a0.78,0.78 0 1,0 -1.56,0M115.55,744.20a0.78,0.78 0 1,0 1.56,0a0.78,0.78 0 1,0 -1.56,0M117.54,744.20a0.78,0.78 0 1,0 1.56,0a0.78,0.78 0 1,0 -1.56,0M119.52,744.20a0.78,0.78 0 1,0 1.56,0a0.78,0.78 0 1,0 -1.56,0M121.51,744.20a0.78,0.78 0 1,0 1.56,0a0.78,0.78 0 1,0 -1.56,0M123.49,744.20a0.78,0.78 0 1,0 1.56,0a0.78,0.78 0 1,0 -1.56,0M125.48,744.20a0.78,0.78 0 1,0 1.56,0a0.78,0.78 0 1,0 -1.56,0M127.46,744.20a0.78,0.78 0 1,0 1.56,0a0.78,0.78 0 1,0 -1.56,0M129.45,744.20a0.78,0.78 0 1,0 1.56,0a0.78,0.78 0 1,0 -1.56,0M131.43,744.20a0.78,0.78 0 1,0 1.56,0a0.78,0.78 0 1,0 -1.56,0M133.42,744.20a0.78,0.78 0 1,0 1.56,0a0.78,0.78 0 1,0 -1.56,0M133.42,746.20a0.78,0.78 0 1,0 1.56,0a0.78,0.78 0 1,0 -1.56,0M133.42,748.20a0.78,0.78 0 1,0 1.56,0a0.78,0.78 0 1,0 -1.56,0M133.42,750.20a0.78,0.78 0 1,0 1.56,0a0.78,0.78 0 1,0 -1.56,0M133.42,752.20a0.78,0.78 0 1,0 1.56,0a0.78,0.78 0 1,0 -1.56,0M133.42,754.20a0.78,0.78 0 1,0 1.56,0a0.78,0.78 0 1,0 -1.56,0M133.42,756.20a0.78,0.78 0 1,0 1.56,0a0.78,0.78 0 1,0 -1.56,0M133.42,758.20a0.78,0.78 0 1,0 1.56,0a0.78,0.78 0 1,0 -1.56,0M133.42,760.20a0.78,0.78 0 1,0 1.56,0a0.78,0.78 0 1,0 -1.56,0M133.42,762.20a0.78,0.78 0 1,0 1.56,0a0.78,0.78 0 1,0 -1.56,0M133.42,764.20a0.78,0.78 0 1,0 1.56,0a0.78,0.78 0 1,0 -1.56,0M131.43,764.20a0.78,0.78 0 1,0 1.56,0a0.78,0.78 0 1,0 -1.56,0M129.45,764.20a0.78,0.78 0 1,0 1.56,0a0.78,0.78 0 1,0 -1.56,0M127.46,764.20a0.78,0.78 0 1,0 1.56,0a0.78,0.78 0 1,0 -1.56,0M125.48,764.20a0.78,0.78 0 1,0 1.56,0a0.78,0.78 0 1,0 -1.56,0M123.49,764.20a0.78,0.78 0 1,0 1.56,0a0.78,0.78 0 1,0 -1.56,0M121.51,764.20a0.78,0.78 0 1,0 1.56,0a0.78,0.78 0 1,0 -1.56,0M119.52,764.20a0.78,0.78 0 1,0 1.56,0a0.78,0.78 0 1,0 -1.56,0M117.54,764.20a0.78,0.78 0 1,0 1.56,0a0.78,0.78 0 1,0 -1.56,0M115.55,764.20a0.78,0.78 0 1,0 1.56,0a0.78,0.78 0 1,0 -1.56,0M113.57,764.20a0.78,0.78 0 1,0 1.56,0a0.78,0.78 0 1,0 -1.56,0M111.58,764.20a0.78,0.78 0 1,0 1.56,0a0.78,0.78 0 1,0 -1.56,0M109.60,764.20a0.78,0.78 0 1,0 1.56,0a0.78,0.78 0 1,0 -1.56,0M107.61,764.20a0.78,0.78 0 1,0 1.56,0a0.78,0.78 0 1,0 -1.56,0M105.63,764.20a0.78,0.78 0 1,0 1.56,0a0.78,0.78 0 1,0 -1.56,0M103.64,764.20a0.78,0.78 0 1,0 1.56,0a0.78,0.78 0 1,0 -1.56,0M101.66,764.20a0.78,0.78 0 1,0 1.56,0a0.78,0.78 0 1,0 -1.56,0M99.67,764.20a0.78,0.78 0 1,0 1.56,0a0.78,0.78 0 1,0 -1.56,0M97.69,764.20a0.78,0.78 0 1,0 1.56,0a0.78,0.78 0 1,0 -1.56,0M95.70,764.20a0.78,0.78 0 1,0 1.56,0a0.78,0.78 0 1,0 -1.56,0M93.72,764.20a0.78,0.78 0 1,0 1.56,0a0.78,0.78 0 1,0 -1.56,0M91.73,764.20a0.78,0.78 0 1,0 1.56,0a0.78,0.78 0 1,0 -1.56,0M89.75,764.20a0.78,0.78 0 1,0 1.56,0a0.78,0.78 0 1,0 -1.56,0M87.76,764.20a0.78,0.78 0 1,0 1.56,0a0.78,0.78 0 1,0 -1.56,0M85.78,764.20a0.78,0.78 0 1,0 1.56,0a0.78,0.78 0 1,0 -1.56,0M83.79,764.20a0.78,0.78 0 1,0 1.56,0a0.78,0.78 0 1,0 -1.56,0M81.81,764.20a0.78,0.78 0 1,0 1.56,0a0.78,0.78 0 1,0 -1.56,0M79.82,764.20a0.78,0.78 0 1,0 1.56,0a0.78,0.78 0 1,0 -1.56,0M79.82,762.20a0.78,0.78 0 1,0 1.56,0a0.78,0.78 0 1,0 -1.56,0M79.82,760.20a0.78,0.78 0 1,0 1.56,0a0.78,0.78 0 1,0 -1.56,0M79.82,758.20a0.78,0.78 0 1,0 1.56,0a0.78,0.78 0 1,0 -1.56,0M79.82,756.20a0.78,0.78 0 1,0 1.56,0a0.78,0.78 0 1,0 -1.56,0M79.82,754.20a0.78,0.78 0 1,0 1.56,0a0.78,0.78 0 1,0 -1.56,0M79.82,752.20a0.78,0.78 0 1,0 1.56,0a0.78,0.78 0 1,0 -1.56,0M79.82,750.20a0.78,0.78 0 1,0 1.56,0a0.78,0.78 0 1,0 -1.56,0M79.82,748.20a0.78,0.78 0 1,0 1.56,0a0.78,0.78 0 1,0 -1.56,0M79.82,746.20a0.78,0.78 0 1,0 1.56,0a0.78,0.78 0 1,0 -1.56,0" fill="#2b2f8f"/>
<path d="M140.82,744.20a0.78,0.78 0 1,0 1.56,0a0.78,0.78 0 1,0 -1.56,0M142.79,744.20a0.78,0.78 0 1,0 1.56,0a0.78,0.78 0 1,0 -1.56,0M144.76,744.20a0.78,0.78 0 1,0 1.56,0a0.78,0.78 0 1,0 -1.56,0M146.74,744.20a0.78,0.78 0 1,0 1.56,0a0.78,0.78 0 1,0 -1.56,0M148.71,744.20a0.78,0.78 0 1,0 1.56,0a0.78,0.78 0 1,0 -1.56,0M150.68,744.20a0.78,0.78 0 1,0 1.56,0a0.78,0.78 0 1,0 -1.56,0M152.65,744.20a0.78,0.78 0 1,0 1.56,0a0.78,0.78 0 1,0 -1.56,0M154.63,744.20a0.78,0.78 0 1,0 1.56,0a0.78,0.78 0 1,0 -1.56,0M156.60,744.20a0.78,0.78 0 1,0 1.56,0a0.78,0.78 0 1,0 -1.56,0M158.57,744.20a0.78,0.78 0 1,0 1.56,0a0.78,0.78 0 1,0 -1.56,0M160.54,744.20a0.78,0.78 0 1,0 1.56,0a0.78,0.78 0 1,0 -1.56,0M162.51,744.20a0.78,0.78 0 1,0 1.56,0a0.78,0.78 0 1,0 -1.56,0M164.49,744.20a0.78,0.78 0 1,0 1.56,0a0.78,0.78 0 1,0 -1.56,0M166.46,744.20a0.78,0.78 0 1,0 1.56,0a0.78,0.78 0 1,0 -1.56,0M168.43,744.20a0.78,0.78 0 1,0 1.56,0a0.78,0.78 0 1,0 -1.56,0M170.40,744.20a0.78,0.78 0 1,0 1.56,0a0.78,0.78 0 1,0 -1.56,0M172.38,744.20a0.78,0.78 0 1,0 1.56,0a0.78,0.78 0 1,0 -1.56,0M174.35,744.20a0.78,0.78 0 1,0 1.56,0a0.78,0.78 0 1,0 -1.56,0M176.32,744.20a0.78,0.78 0 1,0 1.56,0a0.78,0.78 0 1,0 -1.56,0M178.29,744.20a0.78,0.78 0 1,0 1.56,0a0.78,0.78 0 1,0 -1.56,0M180.26,744.20a0.78,0.78 0 1,0 1.56,0a0.78,0.78 0 1,0 -1.56,0M182.24,744.20a0.78,0.78 0 1,0 1.56,0a0.78,0.78 0 1,0 -1.56,0M184.21,744.20a0.78,0.78 0 1,0 1.56,0a0.78,0.78 0 1,0 -1.56,0M186.18,744.20a0.78,0.78 0 1,0 1.56,0a0.78,0.78 0 1,0 -1.56,0M188.15,744.20a0.78,0.78 0 1,0 1.56,0a0.78,0.78 0 1,0 -1.56,0M190.13,744.20a0.78,0.78 0 1,0 1.56,0a0.78,0.78 0 1,0 -1.56,0M192.10,744.20a0.78,0.78 0 1,0 1.56,0a0.78,0.78 0 1,0 -1.56,0M194.07,744.20a0.78,0.78 0 1,0 1.56,0a0.78,0.78 0 1,0 -1.56,0M196.04,744.20a0.78,0.78 0 1,0 1.56,0a0.78,0.78 0 1,0 -1.56,0M198.01,744.20a0.78,0.78 0 1,0 1.56,0a0.78,0.78 0 1,0 -1.56,0M199.99,744.20a0.78,0.78 0 1,0 1.56,0a0.78,0.78 0 1,0 -1.56,0M201.96,744.20a0.78,0.78 0 1,0 1.56,0a0.78,0.78 0 1,0 -1.56,0M203.93,744.20a0.78,0.78 0 1,0 1.56,0a0.78,0.78 0 1,0 -1.56,0M205.90,744.20a0.78,0.78 0 1,0 1.56,0a0.78,0.78 0 1,0 -1.56,0M207.88,744.20a0.78,0.78 0 1,0 1.56,0a0.78,0.78 0 1,0 -1.56,0M209.85,744.20a0.78,0.78 0 1,0 1.56,0a0.78,0.78 0 1,0 -1.56,0M211.82,744.20a0.78,0.78 0 1,0 1.56,0a0.78,0.78 0 1,0 -1.56,0M211.82,746.20a0.78,0.78 0 1,0 1.56,0a0.78,0.78 0 1,0 -1.56,0M211.82,748.20a0.78,0.78 0 1,0 1.56,0a0.78,0.78 0 1,0 -1.56,0M211.82,750.20a0.78,0.78 0 1,0 1.56,0a0.78,0.78 0 1,0 -1.56,0M211.82,752.20a0.78,0.78 0 1,0 1.56,0a0.78,0.78 0 1,0 -1.56,0M211.82,754.20a0.78,0.78 0 1,0 1.56,0a0.78,0.78 0 1,0 -1.56,0M211.82,756.20a0.78,0.78 0 1,0 1.56,0a0.78,0.78 0 1,0 -1.56,0M211.82,758.20a0.78,0.78 0 1,0 1.56,0a0.78,0.78 0 1,0 -1.56,0M211.82,760.20a0.78,0.78 0 1,0 1.56,0a0.78,0.78 0 1,0 -1.56,0M211.82,762.20a0.78,0.78 0 1,0 1.56,0a0.78,0.78 0 1,0 -1.56,0M211.82,764.20a0.78,0.78 0 1,0 1.56,0a0.78,0.78 0 1,0 -1.56,0M209.85,764.20a0.78,0.78 0 1,0 1.56,0a0.78,0.78 0 1,0 -1.56,0M207.88,764.20a0.78,0.78 0 1,0 1.56,0a0.78,0.78 0 1,0 -1.56,0M205.90,764.20a0.78,0.78 0 1,0 1.56,0a0.78,0.78 0 1,0 -1.56,0M203.93,764.20a0.78,0.78 0 1,0 1.56,0a0.78,0.78 0 1,0 -1.56,0M201.96,764.20a0.78,0.78 0 1,0 1.56,0a0.78,0.78 0 1,0 -1.56,0M199.99,764.20a0.78,0.78 0 1,0 1.56,0a0.78,0.78 0 1,0 -1.56,0M198.01,764.20a0.78,0.78 0 1,0 1.56,0a0.78,0.78 0 1,0 -1.56,0M196.04,764.20a0.78,0.78 0 1,0 1.56,0a0.78,0.78 0 1,0 -1.56,0M194.07,764.20a0.78,0.78 0 1,0 1.56,0a0.78,0.78 0 1,0 -1.56,0M192.10,764.20a0.78,0.78 0 1,0 1.56,0a0.78,0.78 0 1,0 -1.56,0M190.13,764.20a0.78,0.78 0 1,0 1.56,0a0.78,0.78 0 1,0 -1.56,0M188.15,764.20a0.78,0.78 0 1,0 1.56,0a0.78,0.78 0 1,0 -1.56,0M186.18,764.20a0.78,0.78 0 1,0 1.56,0a0.78,0.78 0 1,0 -1.56,0M184.21,764.20a0.78,0.78 0 1,0 1.56,0a0.78,0.78 0 1,0 -1.56,0M182.24,764.20a0.78,0.78 0 1,0 1.56,0a0.78,0.78 0 1,0 -1.56,0M180.26,764.20a0.78,0.78 0 1,0 1.56,0a0.78,0.78 0 1,0 -1.56,0M178.29,764.20a0.78,0.78 0 1,0 1.56,0a0.78,0.78 0 1,0 -1.56,0M176.32,764.20a0.78,0.78 0 1,0 1.56,0a0.78,0.78 0 1,0 -1.56,0M174.35,764.20a0.78,0.78 0 1,0 1.56,0a0.78,0.78 0 1,0 -1.56,0M172.38,764.20a0.78,0.78 0 1,0 1.56,0a0.78,0.78 0 1,0 -1.56,0M170.40,764.20a0.78,0.78 0 1,0 1.56,0a0.78,0.78 0 1,0 -1.56,0M168.43,764.20a0.78,0.78 0 1,0 1.56,0a0.78,0.78 0 1,0 -1.56,0M166.46,764.20a0.78,0.78 0 1,0 1.56,0a0.78,0.78 0 1,0 -1.56,0M164.49,764.20a0.78,0.78 0 1,0 1.56,0a0.78,0.78 0 1,0 -1.56,0M162.51,764.20a0.78,0.78 0 1,0 1.56,0a0.78,0.78 0 1,0 -1.56,0M160.54,764.20a0.78,0.78 0 1,0 1.56,0a0.78,0.78 0 1,0 -1.56,0M158.57,764.20a0.78,0.78 0 1,0 1.56,0a0.78,0.78 0 1,0 -1.56,0M156.60,764.20a0.78,0.78 0 1,0 1.56,0a0.78,0.78 0 1,0 -1.56,0M154.63,764.20a0.78,0.78 0 1,0 1.56,0a0.78,0.78 0 1,0 -1.56,0M152.65,764.20a0.78,0.78 0 1,0 1.56,0a0.78,0.78 0 1,0 -1.56,0M150.68,764.20a0.78,0.78 0 1,0 1.56,0a0.78,0.78 0 1,0 -1.56,0M148.71,764.20a0.78,0.78 0 1,0 1.56,0a0.78,0.78 0 1,0 -1.56,0M146.74,764.20a0.78,0.78 0 1,0 1.56,0a0.78,0.78 0 1,0 -1.56,0M144.76,764.20a0.78,0.78 0 1,0 1.56,0a0.78,0.78 0 1,0 -1.56,0M142.79,764.20a0.78,0.78 0 1,0 1.56,0a0.78,0.78 0 1,0 -1.56,0M140.82,764.20a0.78,0.78 0 1,0 1.56,0a0.78,0.78 0 1,0 -1.56,0M140.82,762.20a0.78,0.78 0 1,0 1.56,0a0.78,0.78 0 1,0 -1.56,0M140.82,760.20a0.78,0.78 0 1,0 1.56,0a0.78,0.78 0 1,0 -1.56,0M140.82,758.20a0.78,0.78 0 1,0 1.56,0a0.78,0.78 0 1,0 -1.56,0M140.82,756.20a0.78,0.78 0 1,0 1.56,0a0.78,0.78 0 1,0 -1.56,0M140.82,754.20a0.78,0.78 0 1,0 1.56,0a0.78,0.78 0 1,0 -1.56,0M140.82,752.20a0.78,0.78 0 1,0 1.56,0a0.78,0.78 0 1,0 -1.56,0M140.82,750.20a0.78,0.78 0 1,0 1.56,0a0.78,0.78 0 1,0 -1.56,0M140.82,748.20a0.78,0.78 0 1,0 1.56,0a0.78,0.78 0 1,0 -1.56,0M140.82,746.20a0.78,0.78 0 1,0 1.56,0a0.78,0.78 0 1,0 -1.56,0" fill="#2b2f8f"/>
<path d="M365.82,710.20a0.78,0.78 0 1,0 1.56,0a0.78,0.78 0 1,0 -1.56,0M367.82,710.20a0.78,0.78 0 1,0 1.56,0a0.78,0.78 0 1,0 -1.56,0M369.82,710.20a0.78,0.78 0 1,0 1.56,0a0.78,0.78 0 1,0 -1.56,0M371.82,710.20a0.78,0.78 0 1,0 1.56,0a0.78,0.78 0 1,0 -1.56,0M373.82,710.20a0.78,0.78 0 1,0 1.56,0a0.78,0.78 0 1,0 -1.56,0M375.82,710.20a0.78,0.78 0 1,0 1.56,0a0.78,0.78 0 1,0 -1.56,0M377.82,710.20a0.78,0.78 0 1,0 1.56,0a0.78,0.78 0 1,0 -1.56,0M379.82,710.20a0.78,0.78 0 1,0 1.56,0a0.78,0.78 0 1,0 -1.56,0M379.82,712.16a0.78,0.78 0 1,0 1.56,0a0.78,0.78 0 1,0 -1.56,0M379.82,714.13a0.78,0.78 0 1,0 1.56,0a0.78,0.78 0 1,0 -1.56,0M379.82,716.09a0.78,0.78 0 1,0 1.56,0a0.78,0.78 0 1,0 -1.56,0M379.82,718.05a0.78,0.78 0 1,0 1.56,0a0.78,0.78 0 1,0 -1.56,0M379.82,720.02a0.78,0.78 0 1,0 1.56,0a0.78,0.78 0 1,0 -1.56,0M379.82,721.98a0.78,0.78 0 1,0 1.56,0a0.78,0.78 0 1,0 -1.56,0M379.82,723.95a0.78,0.78 0 1,0 1.56,0a0.78,0.78 0 1,0 -1.56,0M379.82,725.91a0.78,0.78 0 1,0 1.56,0a0.78,0.78 0 1,0 -1.56,0M379.82,727.87a0.78,0.78 0 1,0 1.56,0a0.78,0.78 0 1,0 -1.56,0M379.82,729.84a0.78,0.78 0 1,0 1.56,0a0.78,0.78 0 1,0 -1.56,0M379.82,731.80a0.78,0.78 0 1,0 1.56,0a0.78,0.78 0 1,0 -1.56,0M377.82,731.80a0.78,0.78 0 1,0 1.56,0a0.78,0.78 0 1,0 -1.56,0M375.82,731.80a0.78,0.78 0 1,0 1.56,0a0.78,0.78 0 1,0 -1.56,0M373.82,731.80a0.78,0.78 0 1,0 1.56,0a0.78,0.78 0 1,0 -1.56,0M371.82,731.80a0.78,0.78 0 1,0 1.56,0a0.78,0.78 0 1,0 -1.56,0M369.82,731.80a0.78,0.78 0 1,0 1.56,0a0.78,0.78 0 1,0 -1.56,0M367.82,731.80a0.78,0.78 0 1,0 1.56,0a0.78,0.78 0 1,0 -1.56,0M365.82,731.80a0.78,0.78 0 1,0 1.56,0a0.78,0.78 0 1,0 -1.56,0M365.82,729.84a0.78,0.78 0 1,0 1.56,0a0.78,0.78 0 1,0 -1.56,0M365.82,727.87a0.78,0.78 0 1,0 1.56,0a0.78,0.78 0 1,0 -1.56,0M365.82,725.91a0.78,0.78 0 1,0 1.56,0a0.78,0.78 0 1,0 -1.56,0M365.82,723.95a0.78,0.78 0 1,0 1.56,0a0.78,0.78 0 1,0 -1.56,0M365.82,721.98a0.78,0.78 0 1,0 1.56,0a0.78,0.78 0 1,0 -1.56,0M365.82,720.02a0.78,0.78 0 1,0 1.56,0a0.78,0.78 0 1,0 -1.56,0M365.82,718.05a0.78,0.78 0 1,0 1.56,0a0.78,0.78 0 1,0 -1.56,0M365.82,716.09a0.78,0.78 0 1,0 1.56,0a0.78,0.78 0 1,0 -1.56,0M365.82,714.13a0.78,0.78 0 1,0 1.56,0a0.78,0.78 0 1,0 -1.56,0M365.82,712.16a0.78,0.78 0 1,0 1.56,0a0.78,0.78 0 1,0 -1.56,0" fill="#d6248e"/>
<path d="M365.82,737.60a0.78,0.78 0 1,0 1.56,0a0.78,0.78 0 1,0 -1.56,0M367.82,737.60a0.78,0.78 0 1,0 1.56,0a0.78,0.78 0 1,0 -1.56,0M369.82,737.60a0.78,0.78 0 1,0 1.56,0a0.78,0.78 0 1,0 -1.56,0M371.82,737.60a0.78,0.78 0 1,0 1.56,0a0.78,0.78 0 1,0 -1.56,0M373.82,737.60a0.78,0.78 0 1,0 1.56,0a0.78,0.78 0 1,0 -1.56,0M375.82,737.60a0.78,0.78 0 1,0 1.56,0a0.78,0.78 0 1,0 -1.56,0M377.82,737.60a0.78,0.78 0 1,0 1.56,0a0.78,0.78 0 1,0 -1.56,0M379.82,737.60a0.78,0.78 0 1,0 1.56,0a0.78,0.78 0 1,0 -1.56,0M379.82,739.56a0.78,0.78 0 1,0 1.56,0a0.78,0.78 0 1,0 -1.56,0M379.82,741.53a0.78,0.78 0 1,0 1.56,0a0.78,0.78 0 1,0 -1.56,0M379.82,743.49a0.78,0.78 0 1,0 1.56,0a0.78,0.78 0 1,0 -1.56,0M379.82,745.45a0.78,0.78 0 1,0 1.56,0a0.78,0.78 0 1,0 -1.56,0M379.82,747.42a0.78,0.78 0 1,0 1.56,0a0.78,0.78 0 1,0 -1.56,0M379.82,749.38a0.78,0.78 0 1,0 1.56,0a0.78,0.78 0 1,0 -1.56,0M379.82,751.35a0.78,0.78 0 1,0 1.56,0a0.78,0.78 0 1,0 -1.56,0M379.82,753.31a0.78,0.78 0 1,0 1.56,0a0.78,0.78 0 1,0 -1.56,0M379.82,755.27a0.78,0.78 0 1,0 1.56,0a0.78,0.78 0 1,0 -1.56,0M379.82,757.24a0.78,0.78 0 1,0 1.56,0a0.78,0.78 0 1,0 -1.56,0M379.82,759.20a0.78,0.78 0 1,0 1.56,0a0.78,0.78 0 1,0 -1.56,0M377.82,759.20a0.78,0.78 0 1,0 1.56,0a0.78,0.78 0 1,0 -1.56,0M375.82,759.20a0.78,0.78 0 1,0 1.56,0a0.78,0.78 0 1,0 -1.56,0M373.82,759.20a0.78,0.78 0 1,0 1.56,0a0.78,0.78 0 1,0 -1.56,0M371.82,759.20a0.78,0.78 0 1,0 1.56,0a0.78,0.78 0 1,0 -1.56,0M369.82,759.20a0.78,0.78 0 1,0 1.56,0a0.78,0.78 0 1,0 -1.56,0M367.82,759.20a0.78,0.78 0 1,0 1.56,0a0.78,0.78 0 1,0 -1.56,0M365.82,759.20a0.78,0.78 0 1,0 1.56,0a0.78,0.78 0 1,0 -1.56,0M365.82,757.24a0.78,0.78 0 1,0 1.56,0a0.78,0.78 0 1,0 -1.56,0M365.82,755.27a0.78,0.78 0 1,0 1.56,0a0.78,0.78 0 1,0 -1.56,0M365.82,753.31a0.78,0.78 0 1,0 1.56,0a0.78,0.78 0 1,0 -1.56,0M365.82,751.35a0.78,0.78 0 1,0 1.56,0a0.78,0.78 0 1,0 -1.56,0M365.82,749.38a0.78,0.78 0 1,0 1.56,0a0.78,0.78 0 1,0 -1.56,0M365.82,747.42a0.78,0.78 0 1,0 1.56,0a0.78,0.78 0 1,0 -1.56,0M365.82,745.45a0.78,0.78 0 1,0 1.56,0a0.78,0.78 0 1,0 -1.56,0M365.82,743.49a0.78,0.78 0 1,0 1.56,0a0.78,0.78 0 1,0 -1.56,0M365.82,741.53a0.78,0.78 0 1,0 1.56,0a0.78,0.78 0 1,0 -1.56,0M365.82,739.56a0.78,0.78 0 1,0 1.56,0a0.78,0.78 0 1,0 -1.56,0" fill="#2b2f8f"/>
<line x1="98.6" y1="647.1" x2="259.3" y2="647.1" stroke="#4a4a4a" stroke-width="0.75" />
<line x1="98.6" y1="647.1" x2="98.6" y2="669.2" stroke="#4a4a4a" stroke-width="0.75" />
<line x1="62.3" y1="669.2" x2="134.4" y2="669.2" stroke="#4a4a4a" stroke-width="0.75" />
<line x1="62.3" y1="669.2" x2="62.3" y2="680" stroke="#4a4a4a" stroke-width="0.75" />
<line x1="55.4" y1="680" x2="69.7" y2="680" stroke="#4a4a4a" stroke-width="0.75" />
<line x1="55.4" y1="680" x2="55.4" y2="700.5" stroke="#4a4a4a" stroke-width="0.75" />
<line x1="69.7" y1="680" x2="69.7" y2="694.6" stroke="#4a4a4a" stroke-width="0.75" />
<line x1="63.4" y1="694.6" x2="76.5" y2="694.6" stroke="#4a4a4a" stroke-width="0.75" />
<line x1="63.4" y1="694.6" x2="63.4" y2="700.5" stroke="#4a4a4a" stroke-width="0.75" />
<line x1="76.5" y1="694.6" x2="76.5" y2="700.5" stroke="#4a4a4a" stroke-width="0.75" />
<line x1="134.4" y1="669.2" x2="134.4" y2="690.3" stroke="#4a4a4a" stroke-width="0.75" />
<line x1="105.7" y1="690.3" x2="164.5" y2="690.3" stroke="#4a4a4a" stroke-width="0.75" />
<line x1="105.7" y1="690.3" x2="105.7" y2="698.2" stroke="#4a4a4a" stroke-width="0.75" />
<line x1="164.5" y1="690.3" x2="164.5" y2="699.2" stroke="#4a4a4a" stroke-width="0.75" />
<line x1="90.3" y1="698.2" x2="120.8" y2="698.2" stroke="#4a4a4a" stroke-width="0.75" />
<line x1="259.3" y1="647.1" x2="259.3" y2="686.5" stroke="#4a4a4a" stroke-width="0.75" />
<line x1="204.2" y1="686.5" x2="314.4" y2="686.5" stroke="#4a4a4a" stroke-width="0.75" />
<line x1="204.2" y1="686.5" x2="204.2" y2="697.2" stroke="#4a4a4a" stroke-width="0.75" />
<line x1="197.7" y1="697.2" x2="210.3" y2="697.2" stroke="#4a4a4a" stroke-width="0.75" />
<line x1="197.7" y1="697.2" x2="197.7" y2="700.5" stroke="#4a4a4a" stroke-width="0.75" />
<line x1="210.3" y1="697.2" x2="210.3" y2="700.5" stroke="#4a4a4a" stroke-width="0.75" />
<line x1="314.4" y1="686.5" x2="314.4" y2="688.8" stroke="#4a4a4a" stroke-width="0.75" />
<line x1="289.4" y1="688.8" x2="339.4" y2="688.8" stroke="#4a4a4a" stroke-width="0.75" />
<line x1="289.4" y1="688.8" x2="289.4" y2="696.6" stroke="#4a4a4a" stroke-width="0.75" />
<line x1="259.2" y1="696.6" x2="318.8" y2="696.6" stroke="#4a4a4a" stroke-width="0.75" />
<line x1="259.2" y1="696.6" x2="259.2" y2="700.5" stroke="#4a4a4a" stroke-width="0.75" />
<line x1="318.8" y1="696.6" x2="318.8" y2="700.5" stroke="#4a4a4a" stroke-width="0.75" />
<line x1="339.4" y1="688.8" x2="339.4" y2="697.1" stroke="#4a4a4a" stroke-width="0.75" />
<line x1="337.5" y1="697.1" x2="342.3" y2="697.1" stroke="#4a4a4a" stroke-width="0.75" />
<line x1="337.5" y1="697.1" x2="337.5" y2="700.5" stroke="#4a4a4a" stroke-width="0.75" />
<line x1="342.3" y1="697.1" x2="342.3" y2="700.5" stroke="#4a4a4a" stroke-width="0.75" />
<line x1="55" y1="700.7" x2="346.5" y2="700.7" stroke="#555" stroke-width="0.9" />
<line x1="81.5" y1="699.6" x2="130" y2="699.6" stroke="#6a6a6a" stroke-width="1.4" />
<line x1="138" y1="699.6" x2="184" y2="699.6" stroke="#6a6a6a" stroke-width="1.4" />
<line x1="112.3" y1="699.6" x2="120.8" y2="699.6" stroke="#6a6a6a" stroke-width="1.4" />
<line x1="305.8" y1="699.6" x2="318.3" y2="699.6" stroke="#6a6a6a" stroke-width="1.4" />
<line x1="90" y1="699.6" x2="112" y2="699.6" stroke="#6a6a6a" stroke-width="1.4" />
<text transform="translate(39.8,713.9) scale(1,1.08)" font-size="8.6" text-anchor="end" textLength="12.3" lengthAdjust="spacingAndGlyphs">ctrl</text>
<text transform="translate(46.3,734.0) scale(1,1.08)" font-size="8.6" text-anchor="end" textLength="24.0" lengthAdjust="spacingAndGlyphs">Hemin</text>
<text transform="translate(46.1,754.4) scale(1,1.08)" font-size="8.6" text-anchor="end" textLength="24.0" lengthAdjust="spacingAndGlyphs">Hemin</text>
<text transform="translate(48.5,763.1) scale(1,1.08)" font-size="8.6" text-anchor="end" textLength="30.3" lengthAdjust="spacingAndGlyphs">+S2101</text>
<rect x="361.1" y="642.4" width="7.8" height="7.3" fill="#c8202c" />
<rect x="361.1" y="649.6" width="7.8" height="7.3" fill="#d75462" />
<rect x="361.1" y="656.8" width="7.8" height="7.3" fill="#e9a6b0" />
<rect x="361.1" y="664.0" width="7.8" height="7.3" fill="#ffffff" />
<rect x="361.1" y="671.1999999999999" width="7.8" height="7.3" fill="#a7abd9" />
<rect x="361.1" y="678.4" width="7.8" height="7.3" fill="#5860a9" />
<rect x="361.1" y="685.6" width="7.8" height="7.3" fill="#263690" />
<text transform="translate(373.6,649.0) scale(1,1.08)" font-size="8.6">3.00</text>
<text transform="translate(373.6,656.2) scale(1,1.08)" font-size="8.6">2.00</text>
<text transform="translate(373.6,663.4) scale(1,1.08)" font-size="8.6">1.00</text>
<text transform="translate(373.6,670.6) scale(1,1.08)" font-size="8.6">0.00</text>
<text transform="translate(372.9,677.8) scale(1,1.08)" font-size="8.6">-1.00</text>
<text transform="translate(372.9,685.0) scale(1,1.08)" font-size="8.6">-2.00</text>
<text transform="translate(372.9,692.2) scale(1,1.08)" font-size="8.6">-3.00</text>
<text transform="translate(425.4,717.3) scale(1,1.08)" font-size="8.6" text-anchor="middle" textLength="81.6" lengthAdjust="spacingAndGlyphs">Upregulated by hemin</text>
<text transform="translate(425.4,725.6) scale(1,1.08)" font-size="8.6" text-anchor="middle" textLength="60" lengthAdjust="spacingAndGlyphs">108 metabolites</text>
<text transform="translate(425.6,743.5) scale(1,1.08)" font-size="8.6" text-anchor="middle" textLength="66.7" lengthAdjust="spacingAndGlyphs">Downregulated of</text>
<text transform="translate(425.0,752.1) scale(1,1.08)" font-size="8.6" text-anchor="middle" textLength="76" lengthAdjust="spacingAndGlyphs">the above by S2101</text>
<text transform="translate(425.6,761.0) scale(1,1.08)" font-size="8.6" text-anchor="middle" textLength="56.3" lengthAdjust="spacingAndGlyphs">94 metabolites</text>
<text transform="translate(28.2,875) rotate(-90)" font-size="10" textLength="68.3" lengthAdjust="spacingAndGlyphs" style="stroke-width:0.35px">Relative expression</text>
<line x1="54" y1="809" x2="54" y2="872.4" stroke="#231f20" stroke-width="1.4" />
<line x1="49.5" y1="871.7" x2="110.8" y2="871.7" stroke="#231f20" stroke-width="1.4" />
<line x1="51.2" y1="871.7" x2="54" y2="871.7" stroke="#231f20" stroke-width="1.2" />
<text transform="translate(44.8,874.7) scale(1,1.08)" font-size="8.6" text-anchor="end" textLength="4.8" lengthAdjust="spacingAndGlyphs">0</text>
<line x1="51.2" y1="857.2700000000001" x2="54" y2="857.2700000000001" stroke="#231f20" stroke-width="1.2" />
<text transform="translate(44.8,860.27) scale(1,1.08)" font-size="8.6" text-anchor="end" textLength="10.2" lengthAdjust="spacingAndGlyphs">10</text>
<line x1="51.2" y1="842.84" x2="54" y2="842.84" stroke="#231f20" stroke-width="1.2" />
<text transform="translate(44.8,845.84) scale(1,1.08)" font-size="8.6" text-anchor="end" textLength="10.2" lengthAdjust="spacingAndGlyphs">20</text>
<line x1="51.2" y1="828.4100000000001" x2="54" y2="828.4100000000001" stroke="#231f20" stroke-width="1.2" />
<text transform="translate(44.8,831.41) scale(1,1.08)" font-size="8.6" text-anchor="end" textLength="10.2" lengthAdjust="spacingAndGlyphs">30</text>
<line x1="51.2" y1="813.98" x2="54" y2="813.98" stroke="#231f20" stroke-width="1.2" />
<text transform="translate(44.8,816.98) scale(1,1.08)" font-size="8.6" text-anchor="end" textLength="10.2" lengthAdjust="spacingAndGlyphs">40</text>
<line x1="67.7" y1="871.7" x2="67.7" y2="874.8" stroke="#231f20" stroke-width="1" />
<line x1="96.4" y1="871.7" x2="96.4" y2="874.8" stroke="#231f20" stroke-width="1" />
<rect x="58.8" y="870.2570000000001" width="8.9" height="1.443" fill="#4f5669" />
<rect x="67.7" y="827.9771000000001" width="9.9" height="43.7229" fill="#ac0d35" />
<rect x="87.4" y="870.2570000000001" width="8.9" height="1.443" fill="#4f5669" />
<rect x="96.4" y="862.4648000000001" width="9.7" height="9.2352" fill="#ac0d35" />
<circle cx="60.5" cy="870.3" r="0.9" fill="#000"/>
<circle cx="63.2" cy="870.4" r="0.9" fill="#000"/>
<circle cx="65.8" cy="870.3" r="0.9" fill="#000"/>
<circle cx="89.2" cy="870.3" r="0.9" fill="#000"/>
<circle cx="91.8" cy="870.2" r="0.9" fill="#000"/>
<circle cx="94.4" cy="870.4" r="0.9" fill="#000"/>
<line x1="69.7" y1="826.6" x2="75.7" y2="826.6" stroke="#000" stroke-width="1" />
<circle cx="70.5" cy="827.8000000000001" r="0.9" fill="#000"/>
<circle cx="72.7" cy="827.8000000000001" r="0.9" fill="#000"/>
<circle cx="74.9" cy="827.8000000000001" r="0.9" fill="#000"/>
<line x1="98.2" y1="861.3" x2="104.2" y2="861.3" stroke="#000" stroke-width="1" />
<circle cx="99.0" cy="862.5" r="0.9" fill="#000"/>
<circle cx="101.2" cy="862.5" r="0.9" fill="#000"/>
<circle cx="103.4" cy="862.5" r="0.9" fill="#000"/>
<polyline points="62.3,869.8 62.3,820.8 72.3,820.8 72.3,824.6" fill="none" stroke="#000" stroke-width="1.2"/>
<polyline points="91.5,868.8 91.5,856.1 101.5,856.1 101.5,858.4" fill="none" stroke="#000" stroke-width="1.2"/>
<text transform="translate(68,819.5) scale(1,1.08)" font-size="7" text-anchor="middle" textLength="5" lengthAdjust="spacingAndGlyphs">**</text>
<text transform="translate(96.6,854.7) scale(1,1.08)" font-size="7" text-anchor="middle" textLength="5" lengthAdjust="spacingAndGlyphs">**</text>
<text transform="translate(50.8,806.7) scale(1,1.08)" font-size="8.6" textLength="47.5" lengthAdjust="spacingAndGlyphs">p = 0.00013</text>
<text transform="translate(81,844.0) scale(1,1.08)" font-size="8.6" textLength="39.4" lengthAdjust="spacingAndGlyphs">p = 5.8x10</text>
<text transform="translate(120.8,841.4) scale(1,1.08)" font-size="6" textLength="5.4" lengthAdjust="spacingAndGlyphs">-6</text>
<rect x="141.8" y="831.8" width="3.7" height="3.1" fill="#4f5669" />
<text transform="translate(149.9,835.9) scale(1,1.08)" font-size="8.6" textLength="11.3" lengthAdjust="spacingAndGlyphs">ctrl</text>
<rect x="141.8" y="845.7" width="3.7" height="3.2" fill="#ac0d35" />
<text transform="translate(149.9,850.0) scale(1,1.08)" font-size="8.6" textLength="35.3" lengthAdjust="spacingAndGlyphs">LSD1 KD</text>
<text transform="translate(73.8,883.2) rotate(-45)" font-size="8.2" font-style="italic" text-anchor="end" textLength="25.6" lengthAdjust="spacingAndGlyphs">CD48</text>
<text transform="translate(101.1,883.4) rotate(-45)" font-size="8.2" font-style="italic" text-anchor="end" textLength="25.4" lengthAdjust="spacingAndGlyphs">CD34</text>
<text transform="translate(221.5,871.3) rotate(-90)" font-size="10" textLength="67.5" lengthAdjust="spacingAndGlyphs" style="stroke-width:0.35px">Relative expression</text>
<line x1="248.0" y1="803.7" x2="248.0" y2="872.5" stroke="#231f20" stroke-width="1.4" />
<line x1="244.3" y1="871.8" x2="325.8" y2="871.8" stroke="#231f20" stroke-width="1.4" />
<line x1="244.3" y1="871.8" x2="248.0" y2="871.8" stroke="#231f20" stroke-width="1.2" />
<text transform="translate(239.8,874.6) scale(1,1.08)" font-size="8.6" text-anchor="end" textLength="4.8" lengthAdjust="spacingAndGlyphs">0</text>
<line x1="244.3" y1="858.9449999999999" x2="248.0" y2="858.9449999999999" stroke="#231f20" stroke-width="1.2" />
<text transform="translate(239.8,861.74) scale(1,1.08)" font-size="8.6" text-anchor="end" textLength="4.8" lengthAdjust="spacingAndGlyphs">5</text>
<line x1="244.3" y1="846.0899999999999" x2="248.0" y2="846.0899999999999" stroke="#231f20" stroke-width="1.2" />
<text transform="translate(239.8,848.89) scale(1,1.08)" font-size="8.6" text-anchor="end" textLength="9.9" lengthAdjust="spacingAndGlyphs">10</text>
<line x1="244.3" y1="833.2349999999999" x2="248.0" y2="833.2349999999999" stroke="#231f20" stroke-width="1.2" />
<text transform="translate(239.8,836.03) scale(1,1.08)" font-size="8.6" text-anchor="end" textLength="9.9" lengthAdjust="spacingAndGlyphs">15</text>
<line x1="244.3" y1="820.38" x2="248.0" y2="820.38" stroke="#231f20" stroke-width="1.2" />
<text transform="translate(239.8,823.18) scale(1,1.08)" font-size="8.6" text-anchor="end" textLength="9.9" lengthAdjust="spacingAndGlyphs">20</text>
<line x1="244.3" y1="807.525" x2="248.0" y2="807.525" stroke="#231f20" stroke-width="1.2" />
<text transform="translate(239.8,810.32) scale(1,1.08)" font-size="8.6" text-anchor="end" textLength="9.9" lengthAdjust="spacingAndGlyphs">25</text>
<line x1="267" y1="871.8" x2="267" y2="875.4" stroke="#231f20" stroke-width="1" />
<line x1="306.6" y1="871.8" x2="306.6" y2="875.4" stroke="#231f20" stroke-width="1" />
<rect x="253" y="870.2574" width="9.399999999999977" height="1.5426" fill="#4f5669" />
<rect x="262.4" y="843.7760999999999" width="10.0" height="28.0239" fill="#e8952a" />
<rect x="272.4" y="824.4936" width="9.700000000000045" height="47.3064" fill="#5a2470" />
<rect x="292.4" y="870.2574" width="8.900000000000034" height="1.5426" fill="#4f5669" />
<rect x="301.3" y="863.8299" width="9.5" height="7.9701" fill="#e8952a" />
<rect x="310.8" y="856.8882" width="10.0" height="14.911800000000001" fill="#5a2470" />
<line x1="267.5" y1="840" x2="267.5" y2="846.3" stroke="#000" stroke-width="1.1" />
<line x1="264.7" y1="840" x2="270.3" y2="840" stroke="#000" stroke-width="1.1" />
<line x1="264.7" y1="846.3" x2="270.3" y2="846.3" stroke="#000" stroke-width="1.1" />
<line x1="277.3" y1="820" x2="277.3" y2="827.5" stroke="#000" stroke-width="1.1" />
<line x1="274.5" y1="820" x2="280.1" y2="820" stroke="#000" stroke-width="1.1" />
<line x1="274.5" y1="827.5" x2="280.1" y2="827.5" stroke="#000" stroke-width="1.1" />
<line x1="306" y1="860.7" x2="306" y2="865.7" stroke="#000" stroke-width="1.1" />
<line x1="303.2" y1="860.7" x2="308.8" y2="860.7" stroke="#000" stroke-width="1.1" />
<line x1="303.2" y1="865.7" x2="308.8" y2="865.7" stroke="#000" stroke-width="1.1" />
<line x1="315.8" y1="854.2" x2="315.8" y2="859" stroke="#000" stroke-width="1.1" />
<line x1="313.0" y1="854.2" x2="318.6" y2="854.2" stroke="#000" stroke-width="1.1" />
<line x1="313.0" y1="859" x2="318.6" y2="859" stroke="#000" stroke-width="1.1" />
<circle cx="255" cy="870.8" r="0.9" fill="#000"/>
<circle cx="257.7" cy="870.8" r="0.9" fill="#000"/>
<circle cx="260.4" cy="870.8" r="0.9" fill="#000"/>
<circle cx="294.5" cy="870.8" r="0.9" fill="#000"/>
<circle cx="297" cy="870.6" r="0.9" fill="#000"/>
<circle cx="299.5" cy="870.8" r="0.9" fill="#000"/>
<circle cx="265" cy="844" r="0.9" fill="#000"/>
<circle cx="270" cy="844.5" r="0.9" fill="#000"/>
<circle cx="275" cy="824" r="0.9" fill="#000"/>
<circle cx="280" cy="825" r="0.9" fill="#000"/>
<circle cx="304" cy="864" r="0.9" fill="#000"/>
<circle cx="308.5" cy="863.5" r="0.9" fill="#000"/>
<circle cx="313.5" cy="856.5" r="0.9" fill="#000"/>
<circle cx="318" cy="857" r="0.9" fill="#000"/>
<polyline points="257,868 257,812.5 276.3,812.5 276.3,814" fill="none" stroke="#000" stroke-width="1.2"/>
<polyline points="259.3,868 259.3,831.8 265.5,831.8 265.5,833.5" fill="none" stroke="#000" stroke-width="1.2"/>
<polyline points="297,868.7 297,847 312,847 312,848.5" fill="none" stroke="#000" stroke-width="1.2"/>
<polyline points="299.3,868.2 299.3,854.3 303,854.3 303,855.5" fill="none" stroke="#000" stroke-width="1.2"/>
<text transform="translate(266.4,810.5) scale(1,1.08)" font-size="7" text-anchor="middle" textLength="5" lengthAdjust="spacingAndGlyphs">**</text>
<text transform="translate(263.8,830.5) scale(1,1.08)" font-size="7" text-anchor="middle">*</text>
<text transform="translate(305,846.5) scale(1,1.08)" font-size="7" text-anchor="middle" textLength="5" lengthAdjust="spacingAndGlyphs">**</text>
<text transform="translate(302.5,854.8) scale(1,1.08)" font-size="7" text-anchor="middle">*</text>
<text transform="translate(272.4,883.6) rotate(-45)" font-size="8.2" font-style="italic" text-anchor="end" textLength="25.6" lengthAdjust="spacingAndGlyphs">CD48</text>
<text transform="translate(311.4,883.6) rotate(-45)" font-size="8.2" font-style="italic" text-anchor="end" textLength="25.4" lengthAdjust="spacingAndGlyphs">CD34</text>
<rect x="334.9" y="824.2" width="2.9" height="2.9" fill="#4f5669" />
<text transform="translate(342.3,828.0) scale(1,1.08)" font-size="8.6" textLength="11.6" lengthAdjust="spacingAndGlyphs">ctrl</text>
<rect x="334.9" y="837.7" width="2.9" height="2.9" fill="#e8952a" />
<text transform="translate(342.3,841.9) scale(1,1.08)" font-size="8.6" textLength="53.5" lengthAdjust="spacingAndGlyphs">S2101 20 µM</text>
<rect x="334.9" y="851.1" width="2.9" height="2.9" fill="#5a2470" />
<text transform="translate(342.3,855.7) scale(1,1.08)" font-size="8.6" textLength="58.8" lengthAdjust="spacingAndGlyphs">S2101 100 µM</text>
</svg>
</body></html>
